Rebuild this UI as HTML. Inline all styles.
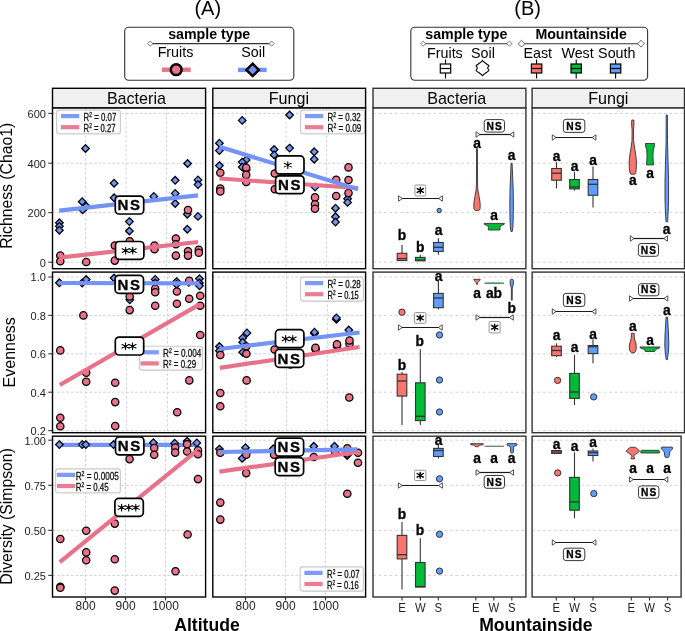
<!DOCTYPE html>
<html><head><meta charset="utf-8"><title>figure</title>
<style>
html,body{margin:0;padding:0;background:#fff;}
svg{display:block;will-change:transform;font-family:'Liberation Sans', sans-serif;}
</style></head>
<body>
<svg width="685" height="631" viewBox="0 0 685 631">
<rect x="0" y="0" width="685" height="631" fill="#fff"/>
<text x="207.8" y="14.6" font-size="20" text-anchor="middle" font-weight="normal" fill="#000" >(A)</text>
<text x="527.7" y="14.6" font-size="20" text-anchor="middle" font-weight="normal" fill="#000" >(B)</text>
<rect x="124.7" y="27.3" width="169.1" height="53" rx="4" fill="#fff" stroke="#333" stroke-width="1.1" />
<text x="209.2" y="38.8" font-size="14.2" text-anchor="middle" font-weight="bold" fill="#000" >sample type</text>
<line x1="150.2" y1="43.6" x2="271.6" y2="43.6" stroke="#333" stroke-width="1.1" />
<path d="M147.6,43.6 L150.2,41 L152.8,43.6 L150.2,46.2 Z" fill="#fff" stroke="#555" stroke-width="0.8"/>
<path d="M269,43.6 L271.6,41 L274.2,43.6 L271.6,46.2 Z" fill="#fff" stroke="#555" stroke-width="0.8"/>
<text x="175.5" y="57.3" font-size="14.3" text-anchor="middle" font-weight="normal" fill="#000" >Fruits</text>
<text x="253.2" y="57.3" font-size="14.3" text-anchor="middle" font-weight="normal" fill="#000" >Soil</text>
<line x1="161.8" y1="69.7" x2="190.7" y2="69.7" stroke="#E8728A" stroke-width="4.4" />
<circle cx="176.2" cy="69.7" r="5.4" fill="#E8728A" stroke="#000" stroke-width="2.5"/>
<line x1="238" y1="69.9" x2="266.7" y2="69.9" stroke="#7393F5" stroke-width="4.4" />
<path d="M252.6,63.7 L258.8,69.9 L252.6,76.1 L246.4,69.9 Z" fill="#7393F5" stroke="#000" stroke-width="2.5"/>
<rect x="410.8" y="27.3" width="236.8" height="53" rx="4" fill="#fff" stroke="#333" stroke-width="1.1" />
<text x="466.3" y="38.8" font-size="14.2" text-anchor="middle" font-weight="bold" fill="#000" >sample type</text>
<line x1="423.1" y1="43.7" x2="509.4" y2="43.7" stroke="#333" stroke-width="1.1" />
<path d="M420.5,43.7 L423.1,41.1 L425.7,43.7 L423.1,46.3 Z" fill="#fff" stroke="#555" stroke-width="0.8"/>
<path d="M506.8,43.7 L509.4,41.1 L512,43.7 L509.4,46.3 Z" fill="#fff" stroke="#555" stroke-width="0.8"/>
<text x="581.1" y="39.3" font-size="14.2" text-anchor="middle" font-weight="bold" fill="#000" >Mountainside</text>
<line x1="521.5" y1="43.7" x2="641" y2="43.7" stroke="#333" stroke-width="1.1" />
<path d="M518.1,43.7 L521.5,40.3 L524.9,43.7 L521.5,47.1 Z" fill="#fff" stroke="#555" stroke-width="0.9"/>
<path d="M637.6,43.7 L641,40.3 L644.4,43.7 L641,47.1 Z" fill="#fff" stroke="#555" stroke-width="0.9"/>
<text x="444.9" y="57.6" font-size="14.3" text-anchor="middle" font-weight="normal" fill="#000" >Fruits</text>
<text x="482.9" y="57.6" font-size="14.3" text-anchor="middle" font-weight="normal" fill="#000" >Soil</text>
<text x="537.8" y="57.6" font-size="14.3" text-anchor="middle" font-weight="normal" fill="#000" >East</text>
<text x="577.6" y="57.6" font-size="14.3" text-anchor="middle" font-weight="normal" fill="#000" >West</text>
<text x="616.8" y="57.6" font-size="14.3" text-anchor="middle" font-weight="normal" fill="#000" >South</text>
<line x1="445.5" y1="59.5" x2="445.5" y2="78.5" stroke="#000" stroke-width="1.1" />
<rect x="440.3" y="64" width="10.4" height="9" rx="0" fill="#fff" stroke="#000" stroke-width="1.2" />
<line x1="440.3" y1="68.5" x2="450.7" y2="68.5" stroke="#000" stroke-width="1.2" />
<line x1="536.6" y1="59.5" x2="536.6" y2="78.5" stroke="#000" stroke-width="1.1" />
<rect x="531.4" y="64" width="10.4" height="9" rx="0" fill="#F8766D" stroke="#000" stroke-width="1.2" />
<line x1="531.4" y1="68.5" x2="541.8" y2="68.5" stroke="#000" stroke-width="1.2" />
<line x1="576.2" y1="59.5" x2="576.2" y2="78.5" stroke="#000" stroke-width="1.1" />
<rect x="571" y="64" width="10.4" height="9" rx="0" fill="#00BA38" stroke="#000" stroke-width="1.2" />
<line x1="571" y1="68.5" x2="581.4" y2="68.5" stroke="#000" stroke-width="1.2" />
<line x1="615.6" y1="59.5" x2="615.6" y2="78.5" stroke="#000" stroke-width="1.1" />
<rect x="610.4" y="64" width="10.4" height="9" rx="0" fill="#619CFF" stroke="#000" stroke-width="1.2" />
<line x1="610.4" y1="68.5" x2="620.8" y2="68.5" stroke="#000" stroke-width="1.2" />
<path d="M482.5,60.5 C484,62.6 486.8,63.6 488.8,65.5 C489.3,66.6 487.5,67.2 487.7,68.1 C487.5,69 489.3,69.5 488.8,70.6 C486.8,72.5 484,73.5 482.5,75.6 C481,73.5 478.2,72.5 476.2,70.6 C475.7,69.5 477.5,69 477.3,68.1 C477.5,67.2 475.7,66.6 476.2,65.5 C478.2,63.6 481,62.6 482.5,60.5 Z" fill="#fff" stroke="#000" stroke-width="1.1"/>
<rect x="52.5" y="107.8" width="153.1" height="160.9" rx="0" fill="#fff" stroke="none" stroke-width="1" />
<line x1="52.5" y1="113.4" x2="205.6" y2="113.4" stroke="#D2D2D2" stroke-width="1" stroke-dasharray="2.6 2"/>
<line x1="52.5" y1="163.2" x2="205.6" y2="163.2" stroke="#D2D2D2" stroke-width="1" stroke-dasharray="2.6 2"/>
<line x1="52.5" y1="212.6" x2="205.6" y2="212.6" stroke="#D2D2D2" stroke-width="1" stroke-dasharray="2.6 2"/>
<line x1="52.5" y1="262.2" x2="205.6" y2="262.2" stroke="#D2D2D2" stroke-width="1" stroke-dasharray="2.6 2"/>
<line x1="85.6" y1="107.8" x2="85.6" y2="268.7" stroke="#D2D2D2" stroke-width="1" stroke-dasharray="2.6 2"/>
<line x1="126" y1="107.8" x2="126" y2="268.7" stroke="#D2D2D2" stroke-width="1" stroke-dasharray="2.6 2"/>
<line x1="166.4" y1="107.8" x2="166.4" y2="268.7" stroke="#D2D2D2" stroke-width="1" stroke-dasharray="2.6 2"/>
<rect x="212.8" y="107.8" width="152.8" height="160.9" rx="0" fill="#fff" stroke="none" stroke-width="1" />
<line x1="212.8" y1="113.4" x2="365.6" y2="113.4" stroke="#D2D2D2" stroke-width="1" stroke-dasharray="2.6 2"/>
<line x1="212.8" y1="163.2" x2="365.6" y2="163.2" stroke="#D2D2D2" stroke-width="1" stroke-dasharray="2.6 2"/>
<line x1="212.8" y1="212.6" x2="365.6" y2="212.6" stroke="#D2D2D2" stroke-width="1" stroke-dasharray="2.6 2"/>
<line x1="212.8" y1="262.2" x2="365.6" y2="262.2" stroke="#D2D2D2" stroke-width="1" stroke-dasharray="2.6 2"/>
<line x1="245.6" y1="107.8" x2="245.6" y2="268.7" stroke="#D2D2D2" stroke-width="1" stroke-dasharray="2.6 2"/>
<line x1="286" y1="107.8" x2="286" y2="268.7" stroke="#D2D2D2" stroke-width="1" stroke-dasharray="2.6 2"/>
<line x1="326.4" y1="107.8" x2="326.4" y2="268.7" stroke="#D2D2D2" stroke-width="1" stroke-dasharray="2.6 2"/>
<rect x="52.5" y="272.1" width="153.1" height="160.6" rx="0" fill="#fff" stroke="none" stroke-width="1" />
<line x1="52.5" y1="277" x2="205.6" y2="277" stroke="#D2D2D2" stroke-width="1" stroke-dasharray="2.6 2"/>
<line x1="52.5" y1="315.4" x2="205.6" y2="315.4" stroke="#D2D2D2" stroke-width="1" stroke-dasharray="2.6 2"/>
<line x1="52.5" y1="353.8" x2="205.6" y2="353.8" stroke="#D2D2D2" stroke-width="1" stroke-dasharray="2.6 2"/>
<line x1="52.5" y1="392.2" x2="205.6" y2="392.2" stroke="#D2D2D2" stroke-width="1" stroke-dasharray="2.6 2"/>
<line x1="52.5" y1="430.6" x2="205.6" y2="430.6" stroke="#D2D2D2" stroke-width="1" stroke-dasharray="2.6 2"/>
<line x1="85.9" y1="272.1" x2="85.9" y2="432.7" stroke="#D2D2D2" stroke-width="1" stroke-dasharray="2.6 2"/>
<line x1="126.65" y1="272.1" x2="126.65" y2="432.7" stroke="#D2D2D2" stroke-width="1" stroke-dasharray="2.6 2"/>
<line x1="167.4" y1="272.1" x2="167.4" y2="432.7" stroke="#D2D2D2" stroke-width="1" stroke-dasharray="2.6 2"/>
<rect x="212.8" y="272.1" width="152.8" height="160.6" rx="0" fill="#fff" stroke="none" stroke-width="1" />
<line x1="212.8" y1="277" x2="365.6" y2="277" stroke="#D2D2D2" stroke-width="1" stroke-dasharray="2.6 2"/>
<line x1="212.8" y1="315.4" x2="365.6" y2="315.4" stroke="#D2D2D2" stroke-width="1" stroke-dasharray="2.6 2"/>
<line x1="212.8" y1="353.8" x2="365.6" y2="353.8" stroke="#D2D2D2" stroke-width="1" stroke-dasharray="2.6 2"/>
<line x1="212.8" y1="392.2" x2="365.6" y2="392.2" stroke="#D2D2D2" stroke-width="1" stroke-dasharray="2.6 2"/>
<line x1="212.8" y1="430.6" x2="365.6" y2="430.6" stroke="#D2D2D2" stroke-width="1" stroke-dasharray="2.6 2"/>
<line x1="245.9" y1="272.1" x2="245.9" y2="432.7" stroke="#D2D2D2" stroke-width="1" stroke-dasharray="2.6 2"/>
<line x1="286.65" y1="272.1" x2="286.65" y2="432.7" stroke="#D2D2D2" stroke-width="1" stroke-dasharray="2.6 2"/>
<line x1="327.4" y1="272.1" x2="327.4" y2="432.7" stroke="#D2D2D2" stroke-width="1" stroke-dasharray="2.6 2"/>
<rect x="52.5" y="436.2" width="153.1" height="160.8" rx="0" fill="#fff" stroke="none" stroke-width="1" />
<line x1="52.5" y1="440.2" x2="205.6" y2="440.2" stroke="#D2D2D2" stroke-width="1" stroke-dasharray="2.6 2"/>
<line x1="52.5" y1="485.27" x2="205.6" y2="485.27" stroke="#D2D2D2" stroke-width="1" stroke-dasharray="2.6 2"/>
<line x1="52.5" y1="530.33" x2="205.6" y2="530.33" stroke="#D2D2D2" stroke-width="1" stroke-dasharray="2.6 2"/>
<line x1="52.5" y1="575.4" x2="205.6" y2="575.4" stroke="#D2D2D2" stroke-width="1" stroke-dasharray="2.6 2"/>
<line x1="85.55" y1="436.2" x2="85.55" y2="597" stroke="#D2D2D2" stroke-width="1" stroke-dasharray="2.6 2"/>
<line x1="125.55" y1="436.2" x2="125.55" y2="597" stroke="#D2D2D2" stroke-width="1" stroke-dasharray="2.6 2"/>
<line x1="165.55" y1="436.2" x2="165.55" y2="597" stroke="#D2D2D2" stroke-width="1" stroke-dasharray="2.6 2"/>
<rect x="212.8" y="436.2" width="152.8" height="160.8" rx="0" fill="#fff" stroke="none" stroke-width="1" />
<line x1="212.8" y1="440.2" x2="365.6" y2="440.2" stroke="#D2D2D2" stroke-width="1" stroke-dasharray="2.6 2"/>
<line x1="212.8" y1="485.27" x2="365.6" y2="485.27" stroke="#D2D2D2" stroke-width="1" stroke-dasharray="2.6 2"/>
<line x1="212.8" y1="530.33" x2="365.6" y2="530.33" stroke="#D2D2D2" stroke-width="1" stroke-dasharray="2.6 2"/>
<line x1="212.8" y1="575.4" x2="365.6" y2="575.4" stroke="#D2D2D2" stroke-width="1" stroke-dasharray="2.6 2"/>
<line x1="245.55" y1="436.2" x2="245.55" y2="597" stroke="#D2D2D2" stroke-width="1" stroke-dasharray="2.6 2"/>
<line x1="285.55" y1="436.2" x2="285.55" y2="597" stroke="#D2D2D2" stroke-width="1" stroke-dasharray="2.6 2"/>
<line x1="325.55" y1="436.2" x2="325.55" y2="597" stroke="#D2D2D2" stroke-width="1" stroke-dasharray="2.6 2"/>
<rect x="373" y="107.8" width="152.9" height="160.9" rx="0" fill="#fff" stroke="none" stroke-width="1" />
<line x1="373" y1="113.4" x2="525.9" y2="113.4" stroke="#D2D2D2" stroke-width="1" stroke-dasharray="2.7 2.8"/>
<line x1="373" y1="163.2" x2="525.9" y2="163.2" stroke="#D2D2D2" stroke-width="1" stroke-dasharray="2.7 2.8"/>
<line x1="373" y1="212.6" x2="525.9" y2="212.6" stroke="#D2D2D2" stroke-width="1" stroke-dasharray="2.7 2.8"/>
<line x1="373" y1="262.2" x2="525.9" y2="262.2" stroke="#D2D2D2" stroke-width="1" stroke-dasharray="2.7 2.8"/>
<rect x="532.1" y="107.8" width="152.4" height="160.9" rx="0" fill="#fff" stroke="none" stroke-width="1" />
<line x1="532.1" y1="113.4" x2="684.5" y2="113.4" stroke="#D2D2D2" stroke-width="1" stroke-dasharray="2.7 2.8"/>
<line x1="532.1" y1="163.2" x2="684.5" y2="163.2" stroke="#D2D2D2" stroke-width="1" stroke-dasharray="2.7 2.8"/>
<line x1="532.1" y1="212.6" x2="684.5" y2="212.6" stroke="#D2D2D2" stroke-width="1" stroke-dasharray="2.7 2.8"/>
<line x1="532.1" y1="262.2" x2="684.5" y2="262.2" stroke="#D2D2D2" stroke-width="1" stroke-dasharray="2.7 2.8"/>
<rect x="373" y="272.1" width="152.9" height="160.6" rx="0" fill="#fff" stroke="none" stroke-width="1" />
<line x1="373" y1="277" x2="525.9" y2="277" stroke="#D2D2D2" stroke-width="1" stroke-dasharray="2.7 2.8"/>
<line x1="373" y1="315.4" x2="525.9" y2="315.4" stroke="#D2D2D2" stroke-width="1" stroke-dasharray="2.7 2.8"/>
<line x1="373" y1="353.8" x2="525.9" y2="353.8" stroke="#D2D2D2" stroke-width="1" stroke-dasharray="2.7 2.8"/>
<line x1="373" y1="392.2" x2="525.9" y2="392.2" stroke="#D2D2D2" stroke-width="1" stroke-dasharray="2.7 2.8"/>
<line x1="373" y1="430.6" x2="525.9" y2="430.6" stroke="#D2D2D2" stroke-width="1" stroke-dasharray="2.7 2.8"/>
<rect x="532.1" y="272.1" width="152.4" height="160.6" rx="0" fill="#fff" stroke="none" stroke-width="1" />
<line x1="532.1" y1="277" x2="684.5" y2="277" stroke="#D2D2D2" stroke-width="1" stroke-dasharray="2.7 2.8"/>
<line x1="532.1" y1="315.4" x2="684.5" y2="315.4" stroke="#D2D2D2" stroke-width="1" stroke-dasharray="2.7 2.8"/>
<line x1="532.1" y1="353.8" x2="684.5" y2="353.8" stroke="#D2D2D2" stroke-width="1" stroke-dasharray="2.7 2.8"/>
<line x1="532.1" y1="392.2" x2="684.5" y2="392.2" stroke="#D2D2D2" stroke-width="1" stroke-dasharray="2.7 2.8"/>
<line x1="532.1" y1="430.6" x2="684.5" y2="430.6" stroke="#D2D2D2" stroke-width="1" stroke-dasharray="2.7 2.8"/>
<rect x="373" y="436.2" width="152.9" height="160.8" rx="0" fill="#fff" stroke="none" stroke-width="1" />
<line x1="373" y1="440.2" x2="525.9" y2="440.2" stroke="#D2D2D2" stroke-width="1" stroke-dasharray="2.7 2.8"/>
<line x1="373" y1="485.27" x2="525.9" y2="485.27" stroke="#D2D2D2" stroke-width="1" stroke-dasharray="2.7 2.8"/>
<line x1="373" y1="530.33" x2="525.9" y2="530.33" stroke="#D2D2D2" stroke-width="1" stroke-dasharray="2.7 2.8"/>
<line x1="373" y1="575.4" x2="525.9" y2="575.4" stroke="#D2D2D2" stroke-width="1" stroke-dasharray="2.7 2.8"/>
<rect x="532.1" y="436.2" width="149" height="160.8" rx="0" fill="#fff" stroke="none" stroke-width="1" />
<line x1="532.1" y1="440.2" x2="681.1" y2="440.2" stroke="#D2D2D2" stroke-width="1" stroke-dasharray="2.7 2.8"/>
<line x1="532.1" y1="485.27" x2="681.1" y2="485.27" stroke="#D2D2D2" stroke-width="1" stroke-dasharray="2.7 2.8"/>
<line x1="532.1" y1="530.33" x2="681.1" y2="530.33" stroke="#D2D2D2" stroke-width="1" stroke-dasharray="2.7 2.8"/>
<line x1="532.1" y1="575.4" x2="681.1" y2="575.4" stroke="#D2D2D2" stroke-width="1" stroke-dasharray="2.7 2.8"/>
<path d="M59.4,219 L63.2,222.8 L59.4,226.6 L55.6,222.8 Z" fill="#7393F5" stroke="#000" stroke-width="1.25" stroke-linejoin="miter"/>
<path d="M59.4,222.5 L63.2,226.3 L59.4,230.1 L55.6,226.3 Z" fill="#7393F5" stroke="#000" stroke-width="1.25" stroke-linejoin="miter"/>
<path d="M59.4,226.4 L63.2,230.2 L59.4,234 L55.6,230.2 Z" fill="#7393F5" stroke="#000" stroke-width="1.25" stroke-linejoin="miter"/>
<path d="M82.2,197.9 L86,201.7 L82.2,205.5 L78.4,201.7 Z" fill="#7393F5" stroke="#000" stroke-width="1.25" stroke-linejoin="miter"/>
<path d="M86.2,202.5 L90,206.3 L86.2,210.1 L82.4,206.3 Z" fill="#7393F5" stroke="#000" stroke-width="1.25" stroke-linejoin="miter"/>
<path d="M82.7,206.1 L86.5,209.9 L82.7,213.7 L78.9,209.9 Z" fill="#7393F5" stroke="#000" stroke-width="1.25" stroke-linejoin="miter"/>
<path d="M85.5,144.7 L89.3,148.5 L85.5,152.3 L81.7,148.5 Z" fill="#7393F5" stroke="#000" stroke-width="1.25" stroke-linejoin="miter"/>
<path d="M114.1,179.4 L117.9,183.2 L114.1,187 L110.3,183.2 Z" fill="#7393F5" stroke="#000" stroke-width="1.25" stroke-linejoin="miter"/>
<path d="M114.1,194 L117.9,197.8 L114.1,201.6 L110.3,197.8 Z" fill="#7393F5" stroke="#000" stroke-width="1.25" stroke-linejoin="miter"/>
<path d="M129.4,217.8 L133.2,221.6 L129.4,225.4 L125.6,221.6 Z" fill="#7393F5" stroke="#000" stroke-width="1.25" stroke-linejoin="miter"/>
<path d="M129.4,227.2 L133.2,231 L129.4,234.8 L125.6,231 Z" fill="#7393F5" stroke="#000" stroke-width="1.25" stroke-linejoin="miter"/>
<path d="M153.8,192.6 L157.6,196.4 L153.8,200.2 L150,196.4 Z" fill="#7393F5" stroke="#000" stroke-width="1.25" stroke-linejoin="miter"/>
<path d="M175.2,176.5 L179,180.3 L175.2,184.1 L171.4,180.3 Z" fill="#7393F5" stroke="#000" stroke-width="1.25" stroke-linejoin="miter"/>
<path d="M175.2,189.6 L179,193.4 L175.2,197.2 L171.4,193.4 Z" fill="#7393F5" stroke="#000" stroke-width="1.25" stroke-linejoin="miter"/>
<path d="M175.2,199.7 L179,203.5 L175.2,207.3 L171.4,203.5 Z" fill="#7393F5" stroke="#000" stroke-width="1.25" stroke-linejoin="miter"/>
<path d="M187.6,159.7 L191.4,163.5 L187.6,167.3 L183.8,163.5 Z" fill="#7393F5" stroke="#000" stroke-width="1.25" stroke-linejoin="miter"/>
<path d="M198,176.1 L201.8,179.9 L198,183.7 L194.2,179.9 Z" fill="#7393F5" stroke="#000" stroke-width="1.25" stroke-linejoin="miter"/>
<path d="M198,180.8 L201.8,184.6 L198,188.4 L194.2,184.6 Z" fill="#7393F5" stroke="#000" stroke-width="1.25" stroke-linejoin="miter"/>
<path d="M187.3,210.4 L191.1,214.2 L187.3,218 L183.5,214.2 Z" fill="#7393F5" stroke="#000" stroke-width="1.25" stroke-linejoin="miter"/>
<path d="M198,212.6 L201.8,216.4 L198,220.2 L194.2,216.4 Z" fill="#7393F5" stroke="#000" stroke-width="1.25" stroke-linejoin="miter"/>
<path d="M187.3,225.4 L191.1,229.2 L187.3,233 L183.5,229.2 Z" fill="#7393F5" stroke="#000" stroke-width="1.25" stroke-linejoin="miter"/>
<circle cx="60.3" cy="255.6" r="3.68" fill="#E8728A" stroke="#000" stroke-width="1.25"/>
<circle cx="60.3" cy="261.3" r="3.68" fill="#E8728A" stroke="#000" stroke-width="1.25"/>
<circle cx="86.2" cy="262" r="3.68" fill="#E8728A" stroke="#000" stroke-width="1.25"/>
<circle cx="114.8" cy="245.6" r="3.68" fill="#E8728A" stroke="#000" stroke-width="1.25"/>
<circle cx="114.8" cy="260.6" r="3.68" fill="#E8728A" stroke="#000" stroke-width="1.25"/>
<circle cx="129.7" cy="241.3" r="3.68" fill="#E8728A" stroke="#000" stroke-width="1.25"/>
<circle cx="154.5" cy="245.6" r="3.68" fill="#E8728A" stroke="#000" stroke-width="1.25"/>
<circle cx="154.5" cy="249.2" r="3.68" fill="#E8728A" stroke="#000" stroke-width="1.25"/>
<circle cx="175.9" cy="238.5" r="3.68" fill="#E8728A" stroke="#000" stroke-width="1.25"/>
<circle cx="175.9" cy="244.2" r="3.68" fill="#E8728A" stroke="#000" stroke-width="1.25"/>
<circle cx="175.9" cy="255.6" r="3.68" fill="#E8728A" stroke="#000" stroke-width="1.25"/>
<circle cx="188" cy="210" r="3.68" fill="#E8728A" stroke="#000" stroke-width="1.25"/>
<circle cx="188" cy="251.3" r="3.68" fill="#E8728A" stroke="#000" stroke-width="1.25"/>
<circle cx="188" cy="255.6" r="3.68" fill="#E8728A" stroke="#000" stroke-width="1.25"/>
<circle cx="198.8" cy="249.9" r="3.68" fill="#E8728A" stroke="#000" stroke-width="1.25"/>
<circle cx="198.8" cy="252.8" r="3.68" fill="#E8728A" stroke="#000" stroke-width="1.25"/>
<line x1="59.1" y1="257.7" x2="198" y2="242" stroke="#E8728A" stroke-width="4.2" />
<line x1="59.1" y1="210.7" x2="198" y2="195.4" stroke="#7393F5" stroke-width="4.2" />
<path d="M219.4,139.4 L223.2,143.2 L219.4,147 L215.6,143.2 Z" fill="#7393F5" stroke="#000" stroke-width="1.25" stroke-linejoin="miter"/>
<path d="M219.4,146.8 L223.2,150.6 L219.4,154.4 L215.6,150.6 Z" fill="#7393F5" stroke="#000" stroke-width="1.25" stroke-linejoin="miter"/>
<path d="M219.4,161.8 L223.2,165.6 L219.4,169.4 L215.6,165.6 Z" fill="#7393F5" stroke="#000" stroke-width="1.25" stroke-linejoin="miter"/>
<path d="M242.2,116.6 L246,120.4 L242.2,124.2 L238.4,120.4 Z" fill="#7393F5" stroke="#000" stroke-width="1.25" stroke-linejoin="miter"/>
<path d="M246.2,156.1 L250,159.9 L246.2,163.7 L242.4,159.9 Z" fill="#7393F5" stroke="#000" stroke-width="1.25" stroke-linejoin="miter"/>
<path d="M242.2,158.3 L246,162.1 L242.2,165.9 L238.4,162.1 Z" fill="#7393F5" stroke="#000" stroke-width="1.25" stroke-linejoin="miter"/>
<path d="M242.2,163.3 L246,167.1 L242.2,170.9 L238.4,167.1 Z" fill="#7393F5" stroke="#000" stroke-width="1.25" stroke-linejoin="miter"/>
<path d="M246.2,166.2 L250,170 L246.2,173.8 L242.4,170 Z" fill="#7393F5" stroke="#000" stroke-width="1.25" stroke-linejoin="miter"/>
<path d="M274.1,145.7 L277.9,149.5 L274.1,153.3 L270.3,149.5 Z" fill="#7393F5" stroke="#000" stroke-width="1.25" stroke-linejoin="miter"/>
<path d="M274.1,151.1 L277.9,154.9 L274.1,158.7 L270.3,154.9 Z" fill="#7393F5" stroke="#000" stroke-width="1.25" stroke-linejoin="miter"/>
<path d="M289.6,111.2 L293.4,115 L289.6,118.8 L285.8,115 Z" fill="#7393F5" stroke="#000" stroke-width="1.25" stroke-linejoin="miter"/>
<path d="M289.6,144.3 L293.4,148.1 L289.6,151.9 L285.8,148.1 Z" fill="#7393F5" stroke="#000" stroke-width="1.25" stroke-linejoin="miter"/>
<path d="M314.2,148 L318,151.8 L314.2,155.6 L310.4,151.8 Z" fill="#7393F5" stroke="#000" stroke-width="1.25" stroke-linejoin="miter"/>
<path d="M314.2,155.4 L318,159.2 L314.2,163 L310.4,159.2 Z" fill="#7393F5" stroke="#000" stroke-width="1.25" stroke-linejoin="miter"/>
<path d="M315,183.3 L318.8,187.1 L315,190.9 L311.2,187.1 Z" fill="#7393F5" stroke="#000" stroke-width="1.25" stroke-linejoin="miter"/>
<path d="M347.6,195 L351.4,198.8 L347.6,202.6 L343.8,198.8 Z" fill="#7393F5" stroke="#000" stroke-width="1.25" stroke-linejoin="miter"/>
<path d="M347.6,198.6 L351.4,202.4 L347.6,206.2 L343.8,202.4 Z" fill="#7393F5" stroke="#000" stroke-width="1.25" stroke-linejoin="miter"/>
<path d="M335.5,204.4 L339.3,208.2 L335.5,212 L331.7,208.2 Z" fill="#7393F5" stroke="#000" stroke-width="1.25" stroke-linejoin="miter"/>
<path d="M335.5,213 L339.3,216.8 L335.5,220.6 L331.7,216.8 Z" fill="#7393F5" stroke="#000" stroke-width="1.25" stroke-linejoin="miter"/>
<path d="M335.5,218.3 L339.3,222.1 L335.5,225.9 L331.7,222.1 Z" fill="#7393F5" stroke="#000" stroke-width="1.25" stroke-linejoin="miter"/>
<circle cx="220.3" cy="172.8" r="3.68" fill="#E8728A" stroke="#000" stroke-width="1.25"/>
<circle cx="220.3" cy="188.6" r="3.68" fill="#E8728A" stroke="#000" stroke-width="1.25"/>
<circle cx="220.3" cy="191.4" r="3.68" fill="#E8728A" stroke="#000" stroke-width="1.25"/>
<circle cx="246.2" cy="167.8" r="3.68" fill="#E8728A" stroke="#000" stroke-width="1.25"/>
<circle cx="246.2" cy="174.9" r="3.68" fill="#E8728A" stroke="#000" stroke-width="1.25"/>
<circle cx="246.2" cy="182" r="3.68" fill="#E8728A" stroke="#000" stroke-width="1.25"/>
<circle cx="274.8" cy="173.5" r="3.68" fill="#E8728A" stroke="#000" stroke-width="1.25"/>
<circle cx="274.8" cy="189.3" r="3.68" fill="#E8728A" stroke="#000" stroke-width="1.25"/>
<circle cx="348.5" cy="167.4" r="3.68" fill="#E8728A" stroke="#000" stroke-width="1.25"/>
<circle cx="348.5" cy="180" r="3.68" fill="#E8728A" stroke="#000" stroke-width="1.25"/>
<circle cx="348.5" cy="193.1" r="3.68" fill="#E8728A" stroke="#000" stroke-width="1.25"/>
<circle cx="336.2" cy="179.7" r="3.68" fill="#E8728A" stroke="#000" stroke-width="1.25"/>
<circle cx="336.2" cy="196" r="3.68" fill="#E8728A" stroke="#000" stroke-width="1.25"/>
<circle cx="315" cy="197.4" r="3.68" fill="#E8728A" stroke="#000" stroke-width="1.25"/>
<circle cx="315" cy="204.2" r="3.68" fill="#E8728A" stroke="#000" stroke-width="1.25"/>
<circle cx="315" cy="208.8" r="3.68" fill="#E8728A" stroke="#000" stroke-width="1.25"/>
<line x1="219.4" y1="178.5" x2="358" y2="188" stroke="#E8728A" stroke-width="4.2" />
<line x1="219.4" y1="146.8" x2="358" y2="189.2" stroke="#7393F5" stroke-width="4.2" />
<path d="M59.4,279 L63.2,282.8 L59.4,286.6 L55.6,282.8 Z" fill="#7393F5" stroke="#000" stroke-width="1.25" stroke-linejoin="miter"/>
<path d="M82.2,279.2 L86,283 L82.2,286.8 L78.4,283 Z" fill="#7393F5" stroke="#000" stroke-width="1.25" stroke-linejoin="miter"/>
<path d="M86.2,275.7 L90,279.5 L86.2,283.3 L82.4,279.5 Z" fill="#7393F5" stroke="#000" stroke-width="1.25" stroke-linejoin="miter"/>
<path d="M114.1,274.2 L117.9,278 L114.1,281.8 L110.3,278 Z" fill="#7393F5" stroke="#000" stroke-width="1.25" stroke-linejoin="miter"/>
<path d="M129.5,277.2 L133.3,281 L129.5,284.8 L125.7,281 Z" fill="#7393F5" stroke="#000" stroke-width="1.25" stroke-linejoin="miter"/>
<path d="M129.8,296 L133.6,299.8 L129.8,303.6 L126,299.8 Z" fill="#7393F5" stroke="#000" stroke-width="1.25" stroke-linejoin="miter"/>
<path d="M155.2,275.6 L159,279.4 L155.2,283.2 L151.4,279.4 Z" fill="#7393F5" stroke="#000" stroke-width="1.25" stroke-linejoin="miter"/>
<path d="M155.2,279.2 L159,283 L155.2,286.8 L151.4,283 Z" fill="#7393F5" stroke="#000" stroke-width="1.25" stroke-linejoin="miter"/>
<path d="M176.6,277.8 L180.4,281.6 L176.6,285.4 L172.8,281.6 Z" fill="#7393F5" stroke="#000" stroke-width="1.25" stroke-linejoin="miter"/>
<path d="M176.6,280.6 L180.4,284.4 L176.6,288.2 L172.8,284.4 Z" fill="#7393F5" stroke="#000" stroke-width="1.25" stroke-linejoin="miter"/>
<path d="M188.8,278.5 L192.6,282.3 L188.8,286.1 L185,282.3 Z" fill="#7393F5" stroke="#000" stroke-width="1.25" stroke-linejoin="miter"/>
<path d="M199.5,274.9 L203.3,278.7 L199.5,282.5 L195.7,278.7 Z" fill="#7393F5" stroke="#000" stroke-width="1.25" stroke-linejoin="miter"/>
<path d="M199.5,279.2 L203.3,283 L199.5,286.8 L195.7,283 Z" fill="#7393F5" stroke="#000" stroke-width="1.25" stroke-linejoin="miter"/>
<path d="M199.5,282 L203.3,285.8 L199.5,289.6 L195.7,285.8 Z" fill="#7393F5" stroke="#000" stroke-width="1.25" stroke-linejoin="miter"/>
<circle cx="83.4" cy="315.4" r="3.68" fill="#E8728A" stroke="#000" stroke-width="1.25"/>
<circle cx="60.3" cy="350.4" r="3.68" fill="#E8728A" stroke="#000" stroke-width="1.25"/>
<circle cx="129.7" cy="296.5" r="3.68" fill="#E8728A" stroke="#000" stroke-width="1.25"/>
<circle cx="129.7" cy="310.1" r="3.68" fill="#E8728A" stroke="#000" stroke-width="1.25"/>
<circle cx="155.2" cy="288.7" r="3.68" fill="#E8728A" stroke="#000" stroke-width="1.25"/>
<circle cx="155.2" cy="292.3" r="3.68" fill="#E8728A" stroke="#000" stroke-width="1.25"/>
<circle cx="155.2" cy="305.8" r="3.68" fill="#E8728A" stroke="#000" stroke-width="1.25"/>
<circle cx="176.9" cy="291.5" r="3.68" fill="#E8728A" stroke="#000" stroke-width="1.25"/>
<circle cx="176.9" cy="303.7" r="3.68" fill="#E8728A" stroke="#000" stroke-width="1.25"/>
<circle cx="189.2" cy="280.8" r="3.68" fill="#E8728A" stroke="#000" stroke-width="1.25"/>
<circle cx="189.2" cy="298.7" r="3.68" fill="#E8728A" stroke="#000" stroke-width="1.25"/>
<circle cx="200.2" cy="295.8" r="3.68" fill="#E8728A" stroke="#000" stroke-width="1.25"/>
<circle cx="200.2" cy="305.8" r="3.68" fill="#E8728A" stroke="#000" stroke-width="1.25"/>
<circle cx="200.2" cy="335" r="3.68" fill="#E8728A" stroke="#000" stroke-width="1.25"/>
<circle cx="60.3" cy="417.8" r="3.68" fill="#E8728A" stroke="#000" stroke-width="1.25"/>
<circle cx="60.3" cy="426.3" r="3.68" fill="#E8728A" stroke="#000" stroke-width="1.25"/>
<circle cx="86.2" cy="372.8" r="3.68" fill="#E8728A" stroke="#000" stroke-width="1.25"/>
<circle cx="86.2" cy="381.8" r="3.68" fill="#E8728A" stroke="#000" stroke-width="1.25"/>
<circle cx="115.2" cy="382.8" r="3.68" fill="#E8728A" stroke="#000" stroke-width="1.25"/>
<circle cx="115.2" cy="402.1" r="3.68" fill="#E8728A" stroke="#000" stroke-width="1.25"/>
<circle cx="115.2" cy="426" r="3.68" fill="#E8728A" stroke="#000" stroke-width="1.25"/>
<circle cx="189.3" cy="380.4" r="3.68" fill="#E8728A" stroke="#000" stroke-width="1.25"/>
<circle cx="177.2" cy="412.3" r="3.68" fill="#E8728A" stroke="#000" stroke-width="1.25"/>
<line x1="59.8" y1="385" x2="199.5" y2="304.4" stroke="#E8728A" stroke-width="4.2" />
<line x1="59.1" y1="283" x2="199.5" y2="283.4" stroke="#7393F5" stroke-width="4.2" />
<path d="M219.4,342.7 L223.2,346.5 L219.4,350.3 L215.6,346.5 Z" fill="#7393F5" stroke="#000" stroke-width="1.25" stroke-linejoin="miter"/>
<path d="M219.4,346.9 L223.2,350.7 L219.4,354.5 L215.6,350.7 Z" fill="#7393F5" stroke="#000" stroke-width="1.25" stroke-linejoin="miter"/>
<path d="M247,329.1 L250.8,332.9 L247,336.7 L243.2,332.9 Z" fill="#7393F5" stroke="#000" stroke-width="1.25" stroke-linejoin="miter"/>
<path d="M242.7,334.1 L246.5,337.9 L242.7,341.7 L238.9,337.9 Z" fill="#7393F5" stroke="#000" stroke-width="1.25" stroke-linejoin="miter"/>
<path d="M242.7,338.4 L246.5,342.2 L242.7,346 L238.9,342.2 Z" fill="#7393F5" stroke="#000" stroke-width="1.25" stroke-linejoin="miter"/>
<path d="M242.7,348.4 L246.5,352.2 L242.7,356 L238.9,352.2 Z" fill="#7393F5" stroke="#000" stroke-width="1.25" stroke-linejoin="miter"/>
<path d="M336.4,315.6 L340.2,319.4 L336.4,323.2 L332.6,319.4 Z" fill="#7393F5" stroke="#000" stroke-width="1.25" stroke-linejoin="miter"/>
<path d="M336.4,314.1 L340.2,317.9 L336.4,321.7 L332.6,317.9 Z" fill="#7393F5" stroke="#000" stroke-width="1.25" stroke-linejoin="miter"/>
<path d="M314.5,329.8 L318.3,333.6 L314.5,337.4 L310.7,333.6 Z" fill="#7393F5" stroke="#000" stroke-width="1.25" stroke-linejoin="miter"/>
<path d="M314.5,328.4 L318.3,332.2 L314.5,336 L310.7,332.2 Z" fill="#7393F5" stroke="#000" stroke-width="1.25" stroke-linejoin="miter"/>
<path d="M348.8,326.2 L352.6,330 L348.8,333.8 L345,330 Z" fill="#7393F5" stroke="#000" stroke-width="1.25" stroke-linejoin="miter"/>
<circle cx="220.3" cy="355" r="3.68" fill="#E8728A" stroke="#000" stroke-width="1.25"/>
<circle cx="246.2" cy="346.5" r="3.68" fill="#E8728A" stroke="#000" stroke-width="1.25"/>
<circle cx="246.4" cy="353.8" r="3.68" fill="#E8728A" stroke="#000" stroke-width="1.25"/>
<circle cx="274.6" cy="349.5" r="3.68" fill="#E8728A" stroke="#000" stroke-width="1.25"/>
<circle cx="290.4" cy="364.4" r="3.68" fill="#E8728A" stroke="#000" stroke-width="1.25"/>
<circle cx="315.5" cy="349" r="3.68" fill="#E8728A" stroke="#000" stroke-width="1.25"/>
<circle cx="315.5" cy="347.9" r="3.68" fill="#E8728A" stroke="#000" stroke-width="1.25"/>
<circle cx="337" cy="345.6" r="3.68" fill="#E8728A" stroke="#000" stroke-width="1.25"/>
<circle cx="337" cy="344.4" r="3.68" fill="#E8728A" stroke="#000" stroke-width="1.25"/>
<circle cx="349.5" cy="343.8" r="3.68" fill="#E8728A" stroke="#000" stroke-width="1.25"/>
<circle cx="349.5" cy="340.5" r="3.68" fill="#E8728A" stroke="#000" stroke-width="1.25"/>
<circle cx="220.3" cy="393" r="3.68" fill="#E8728A" stroke="#000" stroke-width="1.25"/>
<circle cx="220.3" cy="406.3" r="3.68" fill="#E8728A" stroke="#000" stroke-width="1.25"/>
<circle cx="246.6" cy="380.4" r="3.68" fill="#E8728A" stroke="#000" stroke-width="1.25"/>
<circle cx="349.3" cy="397.5" r="3.68" fill="#E8728A" stroke="#000" stroke-width="1.25"/>
<line x1="219.8" y1="367.9" x2="359.5" y2="347" stroke="#E8728A" stroke-width="4.2" />
<line x1="219.4" y1="349" x2="359.5" y2="332.5" stroke="#7393F5" stroke-width="4.2" />
<line x1="59.1" y1="444.8" x2="198" y2="444.8" stroke="#7393F5" stroke-width="4.2" />
<path d="M59.4,440.8 L63.2,444.6 L59.4,448.4 L55.6,444.6 Z" fill="#7393F5" stroke="#000" stroke-width="1.25" stroke-linejoin="miter"/>
<path d="M82.2,440.8 L86,444.6 L82.2,448.4 L78.4,444.6 Z" fill="#7393F5" stroke="#000" stroke-width="1.25" stroke-linejoin="miter"/>
<path d="M85.8,440.8 L89.6,444.6 L85.8,448.4 L82,444.6 Z" fill="#7393F5" stroke="#000" stroke-width="1.25" stroke-linejoin="miter"/>
<path d="M113.5,440.8 L117.3,444.6 L113.5,448.4 L109.7,444.6 Z" fill="#7393F5" stroke="#000" stroke-width="1.25" stroke-linejoin="miter"/>
<path d="M153.4,438.9 L157.2,442.7 L153.4,446.5 L149.6,442.7 Z" fill="#7393F5" stroke="#000" stroke-width="1.25" stroke-linejoin="miter"/>
<path d="M174.7,439.4 L178.5,443.2 L174.7,447 L170.9,443.2 Z" fill="#7393F5" stroke="#000" stroke-width="1.25" stroke-linejoin="miter"/>
<path d="M187.1,437.5 L190.9,441.3 L187.1,445.1 L183.3,441.3 Z" fill="#7393F5" stroke="#000" stroke-width="1.25" stroke-linejoin="miter"/>
<path d="M196.8,439.1 L200.6,442.9 L196.8,446.7 L193,442.9 Z" fill="#7393F5" stroke="#000" stroke-width="1.25" stroke-linejoin="miter"/>
<circle cx="129.6" cy="459.1" r="3.68" fill="#E8728A" stroke="#000" stroke-width="1.25"/>
<circle cx="154.2" cy="448" r="3.68" fill="#E8728A" stroke="#000" stroke-width="1.25"/>
<circle cx="154.2" cy="454.8" r="3.68" fill="#E8728A" stroke="#000" stroke-width="1.25"/>
<circle cx="175.2" cy="447.6" r="3.68" fill="#E8728A" stroke="#000" stroke-width="1.25"/>
<circle cx="175.2" cy="452.6" r="3.68" fill="#E8728A" stroke="#000" stroke-width="1.25"/>
<circle cx="187.1" cy="444.3" r="3.68" fill="#E8728A" stroke="#000" stroke-width="1.25"/>
<circle cx="187.1" cy="451.5" r="3.68" fill="#E8728A" stroke="#000" stroke-width="1.25"/>
<circle cx="198" cy="450.4" r="3.68" fill="#E8728A" stroke="#000" stroke-width="1.25"/>
<circle cx="198" cy="454.3" r="3.68" fill="#E8728A" stroke="#000" stroke-width="1.25"/>
<circle cx="198" cy="479.1" r="3.68" fill="#E8728A" stroke="#000" stroke-width="1.25"/>
<circle cx="60.3" cy="539" r="3.68" fill="#E8728A" stroke="#000" stroke-width="1.25"/>
<circle cx="60.3" cy="586.8" r="3.68" fill="#E8728A" stroke="#000" stroke-width="1.25"/>
<circle cx="60.3" cy="587.7" r="3.68" fill="#E8728A" stroke="#000" stroke-width="1.25"/>
<circle cx="86.2" cy="530.7" r="3.68" fill="#E8728A" stroke="#000" stroke-width="1.25"/>
<circle cx="86.2" cy="552.4" r="3.68" fill="#E8728A" stroke="#000" stroke-width="1.25"/>
<circle cx="86.2" cy="560.2" r="3.68" fill="#E8728A" stroke="#000" stroke-width="1.25"/>
<circle cx="114.8" cy="523.6" r="3.68" fill="#E8728A" stroke="#000" stroke-width="1.25"/>
<circle cx="114.8" cy="559.2" r="3.68" fill="#E8728A" stroke="#000" stroke-width="1.25"/>
<circle cx="114.8" cy="590.6" r="3.68" fill="#E8728A" stroke="#000" stroke-width="1.25"/>
<circle cx="187.6" cy="534.5" r="3.68" fill="#E8728A" stroke="#000" stroke-width="1.25"/>
<circle cx="175.5" cy="571.3" r="3.68" fill="#E8728A" stroke="#000" stroke-width="1.25"/>
<line x1="59.8" y1="562.1" x2="197.3" y2="450.3" stroke="#E8728A" stroke-width="4.2" />
<path d="M219.4,445.3 L223.2,449.1 L219.4,452.9 L215.6,449.1 Z" fill="#7393F5" stroke="#000" stroke-width="1.25" stroke-linejoin="miter"/>
<path d="M245.5,443.9 L249.3,447.7 L245.5,451.5 L241.7,447.7 Z" fill="#7393F5" stroke="#000" stroke-width="1.25" stroke-linejoin="miter"/>
<path d="M242.2,454.6 L246,458.4 L242.2,462.2 L238.4,458.4 Z" fill="#7393F5" stroke="#000" stroke-width="1.25" stroke-linejoin="miter"/>
<path d="M273.3,445 L277.1,448.8 L273.3,452.6 L269.5,448.8 Z" fill="#7393F5" stroke="#000" stroke-width="1.25" stroke-linejoin="miter"/>
<path d="M313.8,442.5 L317.6,446.3 L313.8,450.1 L310,446.3 Z" fill="#7393F5" stroke="#000" stroke-width="1.25" stroke-linejoin="miter"/>
<path d="M334.5,442.5 L338.3,446.3 L334.5,450.1 L330.7,446.3 Z" fill="#7393F5" stroke="#000" stroke-width="1.25" stroke-linejoin="miter"/>
<path d="M347.1,451.7 L350.9,455.5 L347.1,459.3 L343.3,455.5 Z" fill="#7393F5" stroke="#000" stroke-width="1.25" stroke-linejoin="miter"/>
<path d="M347.1,446 L350.9,449.8 L347.1,453.6 L343.3,449.8 Z" fill="#7393F5" stroke="#000" stroke-width="1.25" stroke-linejoin="miter"/>
<circle cx="220.3" cy="452.7" r="3.68" fill="#E8728A" stroke="#000" stroke-width="1.25"/>
<circle cx="246.2" cy="452.7" r="3.68" fill="#E8728A" stroke="#000" stroke-width="1.25"/>
<circle cx="246.2" cy="454.8" r="3.68" fill="#E8728A" stroke="#000" stroke-width="1.25"/>
<circle cx="246.2" cy="473.1" r="3.68" fill="#E8728A" stroke="#000" stroke-width="1.25"/>
<circle cx="274.1" cy="454.8" r="3.68" fill="#E8728A" stroke="#000" stroke-width="1.25"/>
<circle cx="220.3" cy="502.6" r="3.68" fill="#E8728A" stroke="#000" stroke-width="1.25"/>
<circle cx="220.3" cy="519.6" r="3.68" fill="#E8728A" stroke="#000" stroke-width="1.25"/>
<circle cx="313.8" cy="457" r="3.68" fill="#E8728A" stroke="#000" stroke-width="1.25"/>
<circle cx="347.3" cy="448.4" r="3.68" fill="#E8728A" stroke="#000" stroke-width="1.25"/>
<circle cx="347.3" cy="453.4" r="3.68" fill="#E8728A" stroke="#000" stroke-width="1.25"/>
<circle cx="358" cy="452.7" r="3.68" fill="#E8728A" stroke="#000" stroke-width="1.25"/>
<circle cx="358" cy="462.7" r="3.68" fill="#E8728A" stroke="#000" stroke-width="1.25"/>
<circle cx="347.3" cy="493.8" r="3.68" fill="#E8728A" stroke="#000" stroke-width="1.25"/>
<circle cx="335.2" cy="452.7" r="3.68" fill="#E8728A" stroke="#000" stroke-width="1.25"/>
<line x1="219.4" y1="471.7" x2="357.3" y2="452" stroke="#E8728A" stroke-width="4.2" />
<line x1="219.4" y1="452" x2="357.3" y2="449.4" stroke="#7393F5" stroke-width="4.2" />
<rect x="277.2" y="173.5" width="24.8" height="2.4" rx="0" fill="#6a6a6a" stroke="none" stroke-width="1" />
<rect x="57.1" y="111" width="63.8" height="23.7" rx="2.5" fill="#000" stroke="none" stroke-width="1" opacity="0.07"/>
<rect x="56.6" y="110.1" width="63.8" height="23.7" rx="2.5" fill="#fff" stroke="#CACACA" stroke-width="1.1" fill-opacity="0.82"/>
<line x1="61" y1="116.1" x2="79.2" y2="116.1" stroke="#7393F5" stroke-width="4.2" stroke-opacity="0.92"/>
<line x1="61" y1="127.2" x2="79.2" y2="127.2" stroke="#E8728A" stroke-width="4.2" stroke-opacity="0.92"/>
<text x="83.6" y="120.8" font-size="10.3" fill="#111" stroke="#111" stroke-width="0.3" stroke-linejoin="round" textLength="32.7" lengthAdjust="spacingAndGlyphs">R<tspan dy="-3.6" font-size="6.4">2</tspan><tspan dy="3.6"> = </tspan>0.07</text>
<text x="83.6" y="131.9" font-size="10.3" fill="#111" stroke="#111" stroke-width="0.3" stroke-linejoin="round" textLength="31.9" lengthAdjust="spacingAndGlyphs">R<tspan dy="-3.6" font-size="6.4">2</tspan><tspan dy="3.6"> = </tspan>0.27</text>
<rect x="115.3" y="196.1" width="28.4" height="17.9" rx="3.8" fill="#fff" stroke="#000" stroke-width="1.7" />
<text x="129.7" y="210.25" font-size="15" text-anchor="middle" font-weight="bold" fill="#000" letter-spacing="1.7" stroke="#000" stroke-width="0.35" stroke-linejoin="round">NS</text>
<rect x="115.5" y="241.5" width="28.4" height="17.9" rx="3.8" fill="#fff" stroke="#000" stroke-width="1.7" />
<path d="M125.65,247.3 L125.65,254 M122.21,248.82 L129.09,252.48 M122.21,252.48 L129.09,248.82 " stroke="#000" stroke-width="1.1" stroke-linecap="round" fill="none"/>
<circle cx="125.65" cy="250.65" r="1.25" fill="#000"/>
<path d="M132.75,247.3 L132.75,254 M129.31,248.82 L136.19,252.48 M129.31,252.48 L136.19,248.82 " stroke="#000" stroke-width="1.1" stroke-linecap="round" fill="none"/>
<circle cx="132.75" cy="250.65" r="1.25" fill="#000"/>
<rect x="301.1" y="111" width="64" height="23.7" rx="2.5" fill="#000" stroke="none" stroke-width="1" opacity="0.07"/>
<rect x="300.6" y="110.1" width="64" height="23.7" rx="2.5" fill="#fff" stroke="#CACACA" stroke-width="1.1" fill-opacity="0.82"/>
<line x1="305" y1="116.1" x2="323.2" y2="116.1" stroke="#7393F5" stroke-width="4.2" stroke-opacity="0.92"/>
<line x1="305" y1="127.2" x2="323.2" y2="127.2" stroke="#E8728A" stroke-width="4.2" stroke-opacity="0.92"/>
<text x="327.6" y="120.8" font-size="10.3" fill="#111" stroke="#111" stroke-width="0.3" stroke-linejoin="round" textLength="33.2" lengthAdjust="spacingAndGlyphs">R<tspan dy="-3.6" font-size="6.4">2</tspan><tspan dy="3.6"> = </tspan>0.32</text>
<text x="327.6" y="131.9" font-size="10.3" fill="#111" stroke="#111" stroke-width="0.3" stroke-linejoin="round" textLength="33.8" lengthAdjust="spacingAndGlyphs">R<tspan dy="-3.6" font-size="6.4">2</tspan><tspan dy="3.6"> = </tspan>0.09</text>
<rect x="275.6" y="155.9" width="28.4" height="17.9" rx="3.8" fill="#fff" stroke="#000" stroke-width="1.7" />
<path d="M287.8,161.7 L287.8,168.4 M284.36,163.22 L291.24,166.88 M284.36,166.88 L291.24,163.22 " stroke="#000" stroke-width="1.1" stroke-linecap="round" fill="none"/>
<circle cx="287.8" cy="165.05" r="1.25" fill="#000"/>
<rect x="275.6" y="175.8" width="28.4" height="17.9" rx="3.8" fill="#fff" stroke="#000" stroke-width="1.7" />
<text x="290" y="189.95" font-size="15" text-anchor="middle" font-weight="bold" fill="#000" letter-spacing="1.7" stroke="#000" stroke-width="0.35" stroke-linejoin="round">NS</text>
<rect x="140.1" y="347.2" width="62.8" height="23.8" rx="2.5" fill="#000" stroke="none" stroke-width="1" opacity="0.07"/>
<rect x="139.6" y="346.3" width="62.8" height="23.8" rx="2.5" fill="#fff" stroke="#CACACA" stroke-width="1.1" fill-opacity="0.82"/>
<line x1="140.6" y1="352.3" x2="158.8" y2="352.3" stroke="#7393F5" stroke-width="4.2" stroke-opacity="0.92"/>
<line x1="140.6" y1="363.4" x2="158.8" y2="363.4" stroke="#E8728A" stroke-width="4.2" stroke-opacity="0.92"/>
<text x="163.1" y="357" font-size="10.3" fill="#111" stroke="#111" stroke-width="0.3" stroke-linejoin="round" textLength="38.3" lengthAdjust="spacingAndGlyphs">R<tspan dy="-3.6" font-size="6.4">2</tspan><tspan dy="3.6"> = </tspan>0.004</text>
<text x="163.1" y="368.1" font-size="10.3" fill="#111" stroke="#111" stroke-width="0.3" stroke-linejoin="round" textLength="33" lengthAdjust="spacingAndGlyphs">R<tspan dy="-3.6" font-size="6.4">2</tspan><tspan dy="3.6"> = </tspan>0.29</text>
<rect x="115.1" y="275.4" width="28.4" height="17.9" rx="3.8" fill="#fff" stroke="#000" stroke-width="1.7" />
<text x="129.5" y="289.55" font-size="15" text-anchor="middle" font-weight="bold" fill="#000" letter-spacing="1.7" stroke="#000" stroke-width="0.35" stroke-linejoin="round">NS</text>
<rect x="115.3" y="337.1" width="28.4" height="17.9" rx="3.8" fill="#fff" stroke="#000" stroke-width="1.7" />
<path d="M125.45,342.9 L125.45,349.6 M122.01,344.42 L128.89,348.08 M122.01,348.08 L128.89,344.42 " stroke="#000" stroke-width="1.1" stroke-linecap="round" fill="none"/>
<circle cx="125.45" cy="346.25" r="1.25" fill="#000"/>
<path d="M132.55,342.9 L132.55,349.6 M129.11,344.42 L135.99,348.08 M129.11,348.08 L135.99,344.42 " stroke="#000" stroke-width="1.1" stroke-linecap="round" fill="none"/>
<circle cx="132.55" cy="346.25" r="1.25" fill="#000"/>
<rect x="301.1" y="278" width="62.8" height="24" rx="2.5" fill="#000" stroke="none" stroke-width="1" opacity="0.07"/>
<rect x="300.6" y="277.1" width="62.8" height="24" rx="2.5" fill="#fff" stroke="#CACACA" stroke-width="1.1" fill-opacity="0.82"/>
<line x1="305" y1="283.1" x2="323.2" y2="283.1" stroke="#7393F5" stroke-width="4.2" stroke-opacity="0.92"/>
<line x1="305" y1="294.2" x2="323.2" y2="294.2" stroke="#E8728A" stroke-width="4.2" stroke-opacity="0.92"/>
<text x="327.6" y="287.8" font-size="10.3" fill="#111" stroke="#111" stroke-width="0.3" stroke-linejoin="round" textLength="33.2" lengthAdjust="spacingAndGlyphs">R<tspan dy="-3.6" font-size="6.4">2</tspan><tspan dy="3.6"> = </tspan>0.28</text>
<text x="327.6" y="298.9" font-size="10.3" fill="#111" stroke="#111" stroke-width="0.3" stroke-linejoin="round" textLength="31.2" lengthAdjust="spacingAndGlyphs">R<tspan dy="-3.6" font-size="6.4">2</tspan><tspan dy="3.6"> = </tspan>0.15</text>
<rect x="275.5" y="329.7" width="28.4" height="17.9" rx="3.8" fill="#fff" stroke="#000" stroke-width="1.7" />
<path d="M285.65,335.5 L285.65,342.2 M282.21,337.02 L289.09,340.68 M282.21,340.68 L289.09,337.02 " stroke="#000" stroke-width="1.1" stroke-linecap="round" fill="none"/>
<circle cx="285.65" cy="338.85" r="1.25" fill="#000"/>
<path d="M292.75,335.5 L292.75,342.2 M289.31,337.02 L296.19,340.68 M289.31,340.68 L296.19,337.02 " stroke="#000" stroke-width="1.1" stroke-linecap="round" fill="none"/>
<circle cx="292.75" cy="338.85" r="1.25" fill="#000"/>
<rect x="275.3" y="349.4" width="28.4" height="17.9" rx="3.8" fill="#fff" stroke="#000" stroke-width="1.7" />
<text x="289.7" y="363.55" font-size="15" text-anchor="middle" font-weight="bold" fill="#000" letter-spacing="1.7" stroke="#000" stroke-width="0.35" stroke-linejoin="round">NS</text>
<rect x="56.1" y="469.8" width="64.8" height="23.9" rx="2.5" fill="#000" stroke="none" stroke-width="1" opacity="0.07"/>
<rect x="55.6" y="468.9" width="64.8" height="23.9" rx="2.5" fill="#fff" stroke="#CACACA" stroke-width="1.1" fill-opacity="0.82"/>
<line x1="56.9" y1="474.9" x2="75.1" y2="474.9" stroke="#7393F5" stroke-width="4.2" stroke-opacity="0.92"/>
<line x1="56.9" y1="486" x2="75.1" y2="486" stroke="#E8728A" stroke-width="4.2" stroke-opacity="0.92"/>
<text x="75.7" y="479.6" font-size="10.3" fill="#111" stroke="#111" stroke-width="0.3" stroke-linejoin="round" textLength="43.2" lengthAdjust="spacingAndGlyphs">R<tspan dy="-3.6" font-size="6.4">2</tspan><tspan dy="3.6"> = </tspan>0.0005</text>
<text x="75.7" y="490.7" font-size="10.3" fill="#111" stroke="#111" stroke-width="0.3" stroke-linejoin="round" textLength="33" lengthAdjust="spacingAndGlyphs">R<tspan dy="-3.6" font-size="6.4">2</tspan><tspan dy="3.6"> = </tspan>0.45</text>
<rect x="115.5" y="437" width="28.4" height="17.9" rx="3.8" fill="#fff" stroke="#000" stroke-width="1.7" />
<text x="129.9" y="451.15" font-size="15" text-anchor="middle" font-weight="bold" fill="#000" letter-spacing="1.7" stroke="#000" stroke-width="0.35" stroke-linejoin="round">NS</text>
<rect x="114.9" y="498.4" width="28.4" height="17.9" rx="3.8" fill="#fff" stroke="#000" stroke-width="1.7" />
<path d="M121.6,504.2 L121.6,510.9 M118.16,505.72 L125.04,509.38 M118.16,509.38 L125.04,505.72 " stroke="#000" stroke-width="1.1" stroke-linecap="round" fill="none"/>
<circle cx="121.6" cy="507.55" r="1.25" fill="#000"/>
<path d="M128.7,504.2 L128.7,510.9 M125.26,505.72 L132.14,509.38 M125.26,509.38 L132.14,505.72 " stroke="#000" stroke-width="1.1" stroke-linecap="round" fill="none"/>
<circle cx="128.7" cy="507.55" r="1.25" fill="#000"/>
<path d="M135.8,504.2 L135.8,510.9 M132.36,505.72 L139.24,509.38 M132.36,509.38 L139.24,505.72 " stroke="#000" stroke-width="1.1" stroke-linecap="round" fill="none"/>
<circle cx="135.8" cy="507.55" r="1.25" fill="#000"/>
<rect x="300.6" y="567.8" width="63.3" height="24.2" rx="2.5" fill="#000" stroke="none" stroke-width="1" opacity="0.07"/>
<rect x="300.1" y="566.9" width="63.3" height="24.2" rx="2.5" fill="#fff" stroke="#CACACA" stroke-width="1.1" fill-opacity="0.82"/>
<line x1="304.4" y1="572.9" x2="322.6" y2="572.9" stroke="#7393F5" stroke-width="4.2" stroke-opacity="0.92"/>
<line x1="304.4" y1="584" x2="322.6" y2="584" stroke="#E8728A" stroke-width="4.2" stroke-opacity="0.92"/>
<text x="327.1" y="577.6" font-size="10.3" fill="#111" stroke="#111" stroke-width="0.3" stroke-linejoin="round" textLength="32.4" lengthAdjust="spacingAndGlyphs">R<tspan dy="-3.6" font-size="6.4">2</tspan><tspan dy="3.6"> = </tspan>0.07</text>
<text x="327.1" y="588.7" font-size="10.3" fill="#111" stroke="#111" stroke-width="0.3" stroke-linejoin="round" textLength="31.7" lengthAdjust="spacingAndGlyphs">R<tspan dy="-3.6" font-size="6.4">2</tspan><tspan dy="3.6"> = </tspan>0.16</text>
<rect x="275.2" y="438.2" width="28.4" height="17.9" rx="3.8" fill="#fff" stroke="#000" stroke-width="1.7" />
<text x="289.6" y="452.35" font-size="15" text-anchor="middle" font-weight="bold" fill="#000" letter-spacing="1.7" stroke="#000" stroke-width="0.35" stroke-linejoin="round">NS</text>
<rect x="275.2" y="457.7" width="28.4" height="17.9" rx="3.8" fill="#fff" stroke="#000" stroke-width="1.7" />
<text x="289.6" y="471.85" font-size="15" text-anchor="middle" font-weight="bold" fill="#000" letter-spacing="1.7" stroke="#000" stroke-width="0.35" stroke-linejoin="round">NS</text>
<line x1="402" y1="245" x2="402" y2="253.3" stroke="#333" stroke-width="1.1" />
<line x1="402" y1="260.5" x2="402" y2="260.5" stroke="#333" stroke-width="1.1" />
<rect x="397.2" y="253.3" width="9.6" height="7.2" rx="0" fill="#F8766D" stroke="#333" stroke-width="1.1" />
<line x1="397.2" y1="258.6" x2="406.8" y2="258.6" stroke="#333" stroke-width="1.3" />
<line x1="420.3" y1="254.8" x2="420.3" y2="257.4" stroke="#333" stroke-width="1.1" />
<line x1="420.3" y1="260.8" x2="420.3" y2="260.8" stroke="#333" stroke-width="1.1" />
<rect x="415.5" y="257.4" width="9.6" height="3.4" rx="0" fill="#00BA38" stroke="#333" stroke-width="1.1" />
<line x1="415.5" y1="260.2" x2="425.1" y2="260.2" stroke="#333" stroke-width="1.3" />
<line x1="438.4" y1="238.3" x2="438.4" y2="242.5" stroke="#333" stroke-width="1.1" />
<line x1="438.4" y1="251.5" x2="438.4" y2="254.8" stroke="#333" stroke-width="1.1" />
<rect x="433.6" y="242.5" width="9.6" height="9" rx="0" fill="#619CFF" stroke="#333" stroke-width="1.1" />
<line x1="433.6" y1="247.3" x2="443.2" y2="247.3" stroke="#333" stroke-width="1.3" />
<circle cx="439.2" cy="210.5" r="2.2" fill="#619CFF" stroke="#222" stroke-width="0.9"/>
<text x="402" y="239.7" font-size="13.8" text-anchor="middle" font-weight="bold" fill="#000" stroke="#000" stroke-width="0.3" stroke-linejoin="round">b</text>
<text x="420.3" y="251.8" font-size="13.8" text-anchor="middle" font-weight="bold" fill="#000" stroke="#000" stroke-width="0.3" stroke-linejoin="round">b</text>
<text x="438.6" y="234.9" font-size="13.8" text-anchor="middle" font-weight="bold" fill="#000" stroke="#000" stroke-width="0.3" stroke-linejoin="round">a</text>
<line x1="401.6" y1="198.5" x2="439.4" y2="198.5" stroke="#1a1a1a" stroke-width="1.2" />
<path d="M398.6,195.8 L402.4,198.5 L398.6,201.2 Z" fill="#fff" stroke="#333" stroke-width="0.85" stroke-linejoin="round"/>
<path d="M442.4,195.8 L438.6,198.5 L442.4,201.2 Z" fill="#fff" stroke="#333" stroke-width="0.85" stroke-linejoin="round"/>
<rect x="414.9" y="185" width="10.8" height="11" rx="1.2" fill="#FCFCFC" stroke="#8c8c8c" stroke-width="0.9" />
<path d="M420.3,187.5 L420.3,193.5 M417.21,188.65 L423.39,192.35 M417.21,192.35 L423.39,188.65 " stroke="#000" stroke-width="1.4" stroke-linecap="round" fill="none"/>
<circle cx="420.3" cy="190.5" r="1.4" fill="#000"/>
<path d="M476.55,148.5 L476.5,170 L476.4,186 L476.1,190 L475.5,193 L474.9,197 L474.1,201 L473.8,205 L473.9,208.5 L474.5,210 L475.4,210.5 L478.6,210.5 L479.5,210 L480.1,208.5 L480.2,205 L479.9,201 L479.1,197 L478.5,193 L477.9,190 L477.6,186 L477.5,170 L477.45,148.5 Z" fill="#F8766D" stroke="#333" stroke-width="0.9" stroke-linejoin="round"/>
<path d="M484,223.4 L484.4,224.6 L487.7,225.6 L488.4,227.5 L488.4,230 L500,230 L500,227.5 L500.7,225.6 L504,224.6 L504.4,223.4 Z" fill="#00BA38" stroke="#333" stroke-width="0.9" stroke-linejoin="round"/>
<path d="M511.1,163.2 L510.6,175 L510,190 L509.8,205 L510,220 L510.4,228 L511,231.5 L512.2,231.5 L512.8,228 L513.2,220 L513.4,205 L513.2,190 L512.6,175 L512.1,163.2 Z" fill="#619CFF" stroke="#333" stroke-width="0.9" stroke-linejoin="round"/>
<text x="477" y="148" font-size="13.8" text-anchor="middle" font-weight="bold" fill="#000" stroke="#000" stroke-width="0.3" stroke-linejoin="round">a</text>
<text x="494.2" y="220.2" font-size="13.8" text-anchor="middle" font-weight="bold" fill="#000" stroke="#000" stroke-width="0.3" stroke-linejoin="round">a</text>
<text x="511.6" y="159.5" font-size="13.8" text-anchor="middle" font-weight="bold" fill="#000" stroke="#000" stroke-width="0.3" stroke-linejoin="round">a</text>
<line x1="479" y1="134.5" x2="510.8" y2="134.5" stroke="#1a1a1a" stroke-width="1.2" />
<path d="M476,131.8 L479.8,134.5 L476,137.2 Z" fill="#fff" stroke="#333" stroke-width="0.85" stroke-linejoin="round"/>
<path d="M513.8,131.8 L510,134.5 L513.8,137.2 Z" fill="#fff" stroke="#333" stroke-width="0.85" stroke-linejoin="round"/>
<rect x="484.2" y="119.6" width="20.3" height="12.5" rx="2.6" fill="#fff" stroke="#222" stroke-width="0.9" />
<text x="494.85" y="129.55" font-size="10.2" text-anchor="middle" font-weight="bold" fill="#000" letter-spacing="1.2" stroke="#000" stroke-width="0.3" stroke-linejoin="round">NS</text>
<line x1="556.5" y1="162.1" x2="556.5" y2="168.5" stroke="#333" stroke-width="1.1" />
<line x1="556.5" y1="180.2" x2="556.5" y2="188.5" stroke="#333" stroke-width="1.1" />
<rect x="551.7" y="168.5" width="9.6" height="11.7" rx="0" fill="#F8766D" stroke="#333" stroke-width="1.1" />
<line x1="551.7" y1="173.2" x2="561.3" y2="173.2" stroke="#333" stroke-width="1.3" />
<line x1="574.5" y1="172" x2="574.5" y2="179.5" stroke="#333" stroke-width="1.1" />
<line x1="574.5" y1="188.9" x2="574.5" y2="190.6" stroke="#333" stroke-width="1.1" />
<rect x="569.7" y="179.5" width="9.6" height="9.4" rx="0" fill="#00BA38" stroke="#333" stroke-width="1.1" />
<line x1="569.7" y1="187" x2="579.3" y2="187" stroke="#333" stroke-width="1.3" />
<line x1="593" y1="166.6" x2="593" y2="179.5" stroke="#333" stroke-width="1.1" />
<line x1="593" y1="195.3" x2="593" y2="207.4" stroke="#333" stroke-width="1.1" />
<rect x="588.2" y="179.5" width="9.6" height="15.8" rx="0" fill="#619CFF" stroke="#333" stroke-width="1.1" />
<line x1="588.2" y1="184.3" x2="597.8" y2="184.3" stroke="#333" stroke-width="1.3" />
<text x="556.5" y="160.9" font-size="13.8" text-anchor="middle" font-weight="bold" fill="#000" stroke="#000" stroke-width="0.3" stroke-linejoin="round">a</text>
<text x="574.5" y="170.5" font-size="13.8" text-anchor="middle" font-weight="bold" fill="#000" stroke="#000" stroke-width="0.3" stroke-linejoin="round">a</text>
<text x="593" y="165.1" font-size="13.8" text-anchor="middle" font-weight="bold" fill="#000" stroke="#000" stroke-width="0.3" stroke-linejoin="round">a</text>
<line x1="555.3" y1="137.5" x2="592.9" y2="137.5" stroke="#1a1a1a" stroke-width="1.2" />
<path d="M552.3,134.8 L556.1,137.5 L552.3,140.2 Z" fill="#fff" stroke="#333" stroke-width="0.85" stroke-linejoin="round"/>
<path d="M595.9,134.8 L592.1,137.5 L595.9,140.2 Z" fill="#fff" stroke="#333" stroke-width="0.85" stroke-linejoin="round"/>
<rect x="563.4" y="119.3" width="21.4" height="13.1" rx="2.6" fill="#fff" stroke="#222" stroke-width="0.9" />
<text x="574.6" y="129.55" font-size="10.2" text-anchor="middle" font-weight="bold" fill="#000" letter-spacing="1.2" stroke="#000" stroke-width="0.3" stroke-linejoin="round">NS</text>
<path d="M631.8,120 L631.6,124 L632.1,130 L632,140.7 L631,148 L629.8,155 L629.2,161 L629.3,168 L629.8,172.5 L630.8,174.2 L634.8,174.2 L635.8,172.5 L636.3,168 L636.4,161 L635.8,155 L634.6,148 L633.6,140.7 L633.5,130 L634,124 L633.8,120 Z" fill="#F8766D" stroke="#333" stroke-width="0.9" stroke-linejoin="round"/>
<path d="M645.4,143.5 L645.6,146 L646.7,150 L647,155 L646.9,160 L646.4,164.9 L653.6,164.9 L653.1,160 L653,155 L653.3,150 L654.4,146 L654.6,143.5 Z" fill="#00BA38" stroke="#333" stroke-width="0.9" stroke-linejoin="round"/>
<path d="M666.2,115 L666.1,140.7 L665.6,160 L665,180 L665,200 L665.4,212 L666,221.7 L667.6,221.7 L668.2,212 L668.6,200 L668.6,180 L668,160 L667.5,140.7 L667.4,115 Z" fill="#619CFF" stroke="#333" stroke-width="0.9" stroke-linejoin="round"/>
<text x="632.8" y="185.1" font-size="13.8" text-anchor="middle" font-weight="bold" fill="#000" stroke="#000" stroke-width="0.3" stroke-linejoin="round">a</text>
<text x="650" y="177.7" font-size="13.8" text-anchor="middle" font-weight="bold" fill="#000" stroke="#000" stroke-width="0.3" stroke-linejoin="round">a</text>
<text x="666.7" y="234" font-size="13.8" text-anchor="middle" font-weight="bold" fill="#000" stroke="#000" stroke-width="0.3" stroke-linejoin="round">a</text>
<line x1="633.3" y1="238.5" x2="664.5" y2="238.5" stroke="#1a1a1a" stroke-width="1.2" />
<path d="M630.3,235.8 L634.1,238.5 L630.3,241.2 Z" fill="#fff" stroke="#333" stroke-width="0.85" stroke-linejoin="round"/>
<path d="M667.5,235.8 L663.7,238.5 L667.5,241.2 Z" fill="#fff" stroke="#333" stroke-width="0.85" stroke-linejoin="round"/>
<rect x="638.4" y="243.5" width="20.1" height="12.8" rx="2.6" fill="#fff" stroke="#222" stroke-width="0.9" />
<text x="648.95" y="253.6" font-size="10.2" text-anchor="middle" font-weight="bold" fill="#000" letter-spacing="1.2" stroke="#000" stroke-width="0.3" stroke-linejoin="round">NS</text>
<line x1="402" y1="372.1" x2="402" y2="374.2" stroke="#333" stroke-width="1.1" />
<line x1="402" y1="396.1" x2="402" y2="424.9" stroke="#333" stroke-width="1.1" />
<rect x="397.2" y="374.2" width="9.6" height="21.9" rx="0" fill="#F8766D" stroke="#333" stroke-width="1.1" />
<line x1="397.2" y1="381" x2="406.8" y2="381" stroke="#333" stroke-width="1.3" />
<line x1="420.3" y1="349.3" x2="420.3" y2="382.8" stroke="#333" stroke-width="1.1" />
<line x1="420.3" y1="420.6" x2="420.3" y2="424.9" stroke="#333" stroke-width="1.1" />
<rect x="415.5" y="382.8" width="9.6" height="37.8" rx="0" fill="#00BA38" stroke="#333" stroke-width="1.1" />
<line x1="415.5" y1="416.3" x2="425.1" y2="416.3" stroke="#333" stroke-width="1.3" />
<line x1="438.4" y1="281.1" x2="438.4" y2="293.4" stroke="#333" stroke-width="1.1" />
<line x1="438.4" y1="307.7" x2="438.4" y2="309.4" stroke="#333" stroke-width="1.1" />
<rect x="433.6" y="293.4" width="9.6" height="14.3" rx="0" fill="#619CFF" stroke="#333" stroke-width="1.1" />
<line x1="433.6" y1="298" x2="443.2" y2="298" stroke="#333" stroke-width="1.3" />
<circle cx="402" cy="312.2" r="3.15" fill="#F8766D" stroke="#222" stroke-width="0.9"/>
<circle cx="439.5" cy="335" r="3.15" fill="#619CFF" stroke="#222" stroke-width="0.9"/>
<circle cx="439.5" cy="380" r="3.15" fill="#619CFF" stroke="#222" stroke-width="0.9"/>
<circle cx="439.5" cy="412" r="3.15" fill="#619CFF" stroke="#222" stroke-width="0.9"/>
<text x="402" y="369.5" font-size="13.8" text-anchor="middle" font-weight="bold" fill="#000" stroke="#000" stroke-width="0.3" stroke-linejoin="round">b</text>
<text x="419.8" y="346" font-size="13.8" text-anchor="middle" font-weight="bold" fill="#000" stroke="#000" stroke-width="0.3" stroke-linejoin="round">b</text>
<text x="438.5" y="281.1" font-size="13.8" text-anchor="middle" font-weight="bold" fill="#000" stroke="#000" stroke-width="0.3" stroke-linejoin="round">a</text>
<line x1="401.4" y1="327.5" x2="439.2" y2="327.5" stroke="#1a1a1a" stroke-width="1.2" />
<path d="M398.4,324.8 L402.2,327.5 L398.4,330.2 Z" fill="#fff" stroke="#333" stroke-width="0.85" stroke-linejoin="round"/>
<path d="M442.2,324.8 L438.4,327.5 L442.2,330.2 Z" fill="#fff" stroke="#333" stroke-width="0.85" stroke-linejoin="round"/>
<rect x="414.5" y="312.5" width="11.4" height="10.8" rx="1.2" fill="#FCFCFC" stroke="#8c8c8c" stroke-width="0.9" />
<path d="M420.2,314.9 L420.2,320.9 M417.11,316.05 L423.29,319.75 M417.11,319.75 L423.29,316.05 " stroke="#000" stroke-width="1.4" stroke-linecap="round" fill="none"/>
<circle cx="420.2" cy="317.9" r="1.4" fill="#000"/>
<path d="M473.8,279.3 L474,280.3 L475.6,281.6 L476.2,282.4 L476.4,284.2 L477.6,284.2 L477.8,282.4 L478.4,281.6 L480,280.3 L480.2,279.3 Z" fill="#F8766D" stroke="#333" stroke-width="0.9" stroke-linejoin="round"/>
<line x1="484.4" y1="283.2" x2="504" y2="283.2" stroke="#666" stroke-width="1.3" />
<line x1="487" y1="283.2" x2="501.4" y2="283.2" stroke="#00BA38" stroke-width="0.8" />
<path d="M510.9,279.3 L510.2,280.5 L510.2,284 L510.8,286 L511.35,288 L511.4,300.2 L512.2,300.2 L512.25,288 L512.8,286 L513.4,284 L513.4,280.5 L512.7,279.3 Z" fill="#619CFF" stroke="#333" stroke-width="0.9" stroke-linejoin="round"/>
<text x="477" y="298.2" font-size="13.8" text-anchor="middle" font-weight="bold" fill="#000" stroke="#000" stroke-width="0.3" stroke-linejoin="round">a</text>
<text x="494" y="298.2" font-size="13.8" text-anchor="middle" font-weight="bold" fill="#000" stroke="#000" stroke-width="0.3" stroke-linejoin="round">ab</text>
<text x="511.6" y="312.5" font-size="13.8" text-anchor="middle" font-weight="bold" fill="#000" stroke="#000" stroke-width="0.3" stroke-linejoin="round">b</text>
<line x1="479" y1="317.5" x2="510.3" y2="317.5" stroke="#1a1a1a" stroke-width="1.2" />
<path d="M476,314.8 L479.8,317.5 L476,320.2 Z" fill="#fff" stroke="#333" stroke-width="0.85" stroke-linejoin="round"/>
<path d="M513.3,314.8 L509.5,317.5 L513.3,320.2 Z" fill="#fff" stroke="#333" stroke-width="0.85" stroke-linejoin="round"/>
<rect x="489.1" y="321.5" width="11.1" height="11.4" rx="1.2" fill="#FCFCFC" stroke="#8c8c8c" stroke-width="0.9" />
<path d="M494.65,324.2 L494.65,330.2 M491.56,325.35 L497.74,329.05 M491.56,329.05 L497.74,325.35 " stroke="#000" stroke-width="1.4" stroke-linecap="round" fill="none"/>
<circle cx="494.65" cy="327.2" r="1.4" fill="#000"/>
<line x1="556.5" y1="343.3" x2="556.5" y2="346.2" stroke="#333" stroke-width="1.1" />
<line x1="556.5" y1="355.7" x2="556.5" y2="356.9" stroke="#333" stroke-width="1.1" />
<rect x="551.7" y="346.2" width="9.6" height="9.5" rx="0" fill="#F8766D" stroke="#333" stroke-width="1.1" />
<line x1="551.7" y1="350.5" x2="561.3" y2="350.5" stroke="#333" stroke-width="1.3" />
<line x1="574.5" y1="355" x2="574.5" y2="373.4" stroke="#333" stroke-width="1.1" />
<line x1="574.5" y1="398.4" x2="574.5" y2="405.1" stroke="#333" stroke-width="1.1" />
<rect x="569.7" y="373.4" width="9.6" height="25" rx="0" fill="#00BA38" stroke="#333" stroke-width="1.1" />
<line x1="569.7" y1="392" x2="579.3" y2="392" stroke="#333" stroke-width="1.3" />
<line x1="593" y1="339.3" x2="593" y2="345.5" stroke="#333" stroke-width="1.1" />
<line x1="593" y1="353.6" x2="593" y2="363.3" stroke="#333" stroke-width="1.1" />
<rect x="588.2" y="345.5" width="9.6" height="8.1" rx="0" fill="#619CFF" stroke="#333" stroke-width="1.1" />
<line x1="588.2" y1="346.7" x2="597.8" y2="346.7" stroke="#333" stroke-width="1.3" />
<circle cx="557.6" cy="380.4" r="3.15" fill="#F8766D" stroke="#222" stroke-width="0.9"/>
<circle cx="593.7" cy="396.9" r="3.15" fill="#619CFF" stroke="#222" stroke-width="0.9"/>
<text x="556.5" y="340.3" font-size="13.8" text-anchor="middle" font-weight="bold" fill="#000" stroke="#000" stroke-width="0.3" stroke-linejoin="round">a</text>
<text x="574.5" y="352.4" font-size="13.8" text-anchor="middle" font-weight="bold" fill="#000" stroke="#000" stroke-width="0.3" stroke-linejoin="round">a</text>
<text x="593" y="338.8" font-size="13.8" text-anchor="middle" font-weight="bold" fill="#000" stroke="#000" stroke-width="0.3" stroke-linejoin="round">a</text>
<line x1="555.3" y1="311.5" x2="592.9" y2="311.5" stroke="#1a1a1a" stroke-width="1.2" />
<path d="M552.3,308.8 L556.1,311.5 L552.3,314.2 Z" fill="#fff" stroke="#333" stroke-width="0.85" stroke-linejoin="round"/>
<path d="M595.9,308.8 L592.1,311.5 L595.9,314.2 Z" fill="#fff" stroke="#333" stroke-width="0.85" stroke-linejoin="round"/>
<rect x="563.4" y="293.4" width="21.4" height="13.1" rx="2.6" fill="#fff" stroke="#222" stroke-width="0.9" />
<text x="574.6" y="303.65" font-size="10.2" text-anchor="middle" font-weight="bold" fill="#000" letter-spacing="1.2" stroke="#000" stroke-width="0.3" stroke-linejoin="round">NS</text>
<path d="M631.4,333.3 L631.3,338 L630.5,341 L629.6,344 L629.3,347 L629.6,350 L630.6,352 L631.6,352.9 L634,352.9 L635,352 L636,350 L636.3,347 L636,344 L635.1,341 L634.3,338 L634.2,333.3 Z" fill="#F8766D" stroke="#333" stroke-width="0.9" stroke-linejoin="round"/>
<path d="M640,347 L640.4,348 L644.5,349.5 L645.3,351.5 L654.7,351.5 L655.5,349.5 L659.6,348 L660,347 Z" fill="#00BA38" stroke="#333" stroke-width="0.9" stroke-linejoin="round"/>
<path d="M666,317.2 L665.6,325 L665,335 L664.8,345 L665.2,352 L666.2,359.6 L667.4,359.6 L668.4,352 L668.8,345 L668.6,335 L668,325 L667.6,317.2 Z" fill="#619CFF" stroke="#333" stroke-width="0.9" stroke-linejoin="round"/>
<text x="632.8" y="331" font-size="13.8" text-anchor="middle" font-weight="bold" fill="#000" stroke="#000" stroke-width="0.3" stroke-linejoin="round">a</text>
<text x="650" y="344.5" font-size="13.8" text-anchor="middle" font-weight="bold" fill="#000" stroke="#000" stroke-width="0.3" stroke-linejoin="round">a</text>
<text x="666.8" y="314.6" font-size="13.8" text-anchor="middle" font-weight="bold" fill="#000" stroke="#000" stroke-width="0.3" stroke-linejoin="round">a</text>
<line x1="632.5" y1="298.5" x2="664.8" y2="298.5" stroke="#1a1a1a" stroke-width="1.2" />
<path d="M629.5,295.8 L633.3,298.5 L629.5,301.2 Z" fill="#fff" stroke="#333" stroke-width="0.85" stroke-linejoin="round"/>
<path d="M667.8,295.8 L664,298.5 L667.8,301.2 Z" fill="#fff" stroke="#333" stroke-width="0.85" stroke-linejoin="round"/>
<rect x="638.5" y="283.7" width="20.4" height="12.1" rx="2.6" fill="#fff" stroke="#222" stroke-width="0.9" />
<text x="649.2" y="293.45" font-size="10.2" text-anchor="middle" font-weight="bold" fill="#000" letter-spacing="1.2" stroke="#000" stroke-width="0.3" stroke-linejoin="round">NS</text>
<line x1="402" y1="522.1" x2="402" y2="535.4" stroke="#333" stroke-width="1.1" />
<line x1="402" y1="558.9" x2="402" y2="589.6" stroke="#333" stroke-width="1.1" />
<rect x="397.2" y="535.4" width="9.6" height="23.5" rx="0" fill="#F8766D" stroke="#333" stroke-width="1.1" />
<line x1="397.2" y1="554.7" x2="406.8" y2="554.7" stroke="#333" stroke-width="1.3" />
<line x1="420.3" y1="538.2" x2="420.3" y2="562.5" stroke="#333" stroke-width="1.1" />
<line x1="420.3" y1="587" x2="420.3" y2="587" stroke="#333" stroke-width="1.1" />
<rect x="415.5" y="562.5" width="9.6" height="24.5" rx="0" fill="#00BA38" stroke="#333" stroke-width="1.1" />
<line x1="415.5" y1="586.6" x2="425.1" y2="586.6" stroke="#333" stroke-width="1.3" />
<line x1="438.4" y1="444.6" x2="438.4" y2="448.4" stroke="#333" stroke-width="1.1" />
<line x1="438.4" y1="456.5" x2="438.4" y2="458.4" stroke="#333" stroke-width="1.1" />
<rect x="433.6" y="448.4" width="9.6" height="8.1" rx="0" fill="#619CFF" stroke="#333" stroke-width="1.1" />
<line x1="433.6" y1="450.5" x2="443.2" y2="450.5" stroke="#333" stroke-width="1.3" />
<circle cx="439.5" cy="478.8" r="3.15" fill="#619CFF" stroke="#222" stroke-width="0.9"/>
<circle cx="439.5" cy="534.3" r="3.15" fill="#619CFF" stroke="#222" stroke-width="0.9"/>
<circle cx="439.5" cy="571.1" r="3.15" fill="#619CFF" stroke="#222" stroke-width="0.9"/>
<text x="402" y="519.2" font-size="13.8" text-anchor="middle" font-weight="bold" fill="#000" stroke="#000" stroke-width="0.3" stroke-linejoin="round">b</text>
<text x="420" y="535.2" font-size="13.8" text-anchor="middle" font-weight="bold" fill="#000" stroke="#000" stroke-width="0.3" stroke-linejoin="round">b</text>
<text x="438.5" y="445.3" font-size="13.8" text-anchor="middle" font-weight="bold" fill="#000" stroke="#000" stroke-width="0.3" stroke-linejoin="round">a</text>
<line x1="401.4" y1="485.5" x2="439.4" y2="485.5" stroke="#1a1a1a" stroke-width="1.2" />
<path d="M398.4,482.8 L402.2,485.5 L398.4,488.2 Z" fill="#fff" stroke="#333" stroke-width="0.85" stroke-linejoin="round"/>
<path d="M442.4,482.8 L438.6,485.5 L442.4,488.2 Z" fill="#fff" stroke="#333" stroke-width="0.85" stroke-linejoin="round"/>
<rect x="414.5" y="470.2" width="11.4" height="10.3" rx="1.2" fill="#FCFCFC" stroke="#8c8c8c" stroke-width="0.9" />
<path d="M420.2,472.35 L420.2,478.35 M417.11,473.5 L423.29,477.2 M417.11,477.2 L423.29,473.5 " stroke="#000" stroke-width="1.4" stroke-linecap="round" fill="none"/>
<circle cx="420.2" cy="475.35" r="1.4" fill="#000"/>
<path d="M470.5,443.7 L470.7,444.7 L474.5,445.2 L474.9,446 L475.9,446.7 L477.9,446.7 L478.9,446 L479.3,445.2 L483.1,444.7 L483.3,443.7 Z" fill="#F8766D" stroke="#333" stroke-width="0.9" stroke-linejoin="round"/>
<line x1="484.4" y1="446.3" x2="504" y2="446.3" stroke="#777" stroke-width="1.2" />
<line x1="487" y1="446.3" x2="501.4" y2="446.3" stroke="#5a8a5a" stroke-width="0.6" />
<path d="M507.6,443.6 L506.9,444.1 L507.4,445.4 L510,446.2 L510.6,448 L510.5,451 L510.8,452.5 L511.3,453.1 L512.7,453.1 L513.2,452.5 L513.5,451 L513.4,448 L514,446.2 L516.6,445.4 L517.1,444.1 L516.4,443.6 Z" fill="#619CFF" stroke="#333" stroke-width="0.9" stroke-linejoin="round"/>
<text x="477" y="462.9" font-size="13.8" text-anchor="middle" font-weight="bold" fill="#000" stroke="#000" stroke-width="0.3" stroke-linejoin="round">a</text>
<text x="494" y="462.9" font-size="13.8" text-anchor="middle" font-weight="bold" fill="#000" stroke="#000" stroke-width="0.3" stroke-linejoin="round">a</text>
<text x="511.6" y="462.9" font-size="13.8" text-anchor="middle" font-weight="bold" fill="#000" stroke="#000" stroke-width="0.3" stroke-linejoin="round">a</text>
<line x1="479" y1="472.5" x2="510.5" y2="472.5" stroke="#1a1a1a" stroke-width="1.2" />
<path d="M476,469.8 L479.8,472.5 L476,475.2 Z" fill="#fff" stroke="#333" stroke-width="0.85" stroke-linejoin="round"/>
<path d="M513.5,469.8 L509.7,472.5 L513.5,475.2 Z" fill="#fff" stroke="#333" stroke-width="0.85" stroke-linejoin="round"/>
<rect x="484.2" y="475.5" width="20.3" height="12.8" rx="2.6" fill="#fff" stroke="#222" stroke-width="0.9" />
<text x="494.85" y="485.6" font-size="10.2" text-anchor="middle" font-weight="bold" fill="#000" letter-spacing="1.2" stroke="#000" stroke-width="0.3" stroke-linejoin="round">NS</text>
<line x1="556.5" y1="450.5" x2="556.5" y2="450.5" stroke="#333" stroke-width="1.1" />
<line x1="556.5" y1="453.4" x2="556.5" y2="453.4" stroke="#333" stroke-width="1.1" />
<rect x="551.7" y="450.5" width="9.6" height="2.9" rx="0" fill="#F8766D" stroke="#333" stroke-width="1.1" />
<line x1="551.7" y1="452" x2="561.3" y2="452" stroke="#333" stroke-width="1.3" />
<line x1="574.5" y1="452.3" x2="574.5" y2="477.4" stroke="#333" stroke-width="1.1" />
<line x1="574.5" y1="510.2" x2="574.5" y2="518.3" stroke="#333" stroke-width="1.1" />
<rect x="569.7" y="477.4" width="9.6" height="32.8" rx="0" fill="#00BA38" stroke="#333" stroke-width="1.1" />
<line x1="569.7" y1="501.9" x2="579.3" y2="501.9" stroke="#333" stroke-width="1.3" />
<line x1="593" y1="448.4" x2="593" y2="451" stroke="#333" stroke-width="1.1" />
<line x1="593" y1="455.5" x2="593" y2="461.5" stroke="#333" stroke-width="1.1" />
<rect x="588.2" y="451" width="9.6" height="4.5" rx="0" fill="#619CFF" stroke="#333" stroke-width="1.1" />
<line x1="588.2" y1="452.7" x2="597.8" y2="452.7" stroke="#333" stroke-width="1.3" />
<circle cx="557.7" cy="472.9" r="3.15" fill="#F8766D" stroke="#222" stroke-width="0.9"/>
<circle cx="593.8" cy="493.6" r="3.15" fill="#619CFF" stroke="#222" stroke-width="0.9"/>
<text x="556.5" y="448.6" font-size="13.8" text-anchor="middle" font-weight="bold" fill="#000" stroke="#000" stroke-width="0.3" stroke-linejoin="round">a</text>
<text x="574.5" y="450.8" font-size="13.8" text-anchor="middle" font-weight="bold" fill="#000" stroke="#000" stroke-width="0.3" stroke-linejoin="round">a</text>
<text x="593" y="446.8" font-size="13.8" text-anchor="middle" font-weight="bold" fill="#000" stroke="#000" stroke-width="0.3" stroke-linejoin="round">a</text>
<line x1="555.3" y1="542.5" x2="592.9" y2="542.5" stroke="#1a1a1a" stroke-width="1.2" />
<path d="M552.3,539.8 L556.1,542.5 L552.3,545.2 Z" fill="#fff" stroke="#333" stroke-width="0.85" stroke-linejoin="round"/>
<path d="M595.9,539.8 L592.1,542.5 L595.9,545.2 Z" fill="#fff" stroke="#333" stroke-width="0.85" stroke-linejoin="round"/>
<rect x="563.4" y="548.2" width="21.4" height="12.4" rx="2.6" fill="#fff" stroke="#222" stroke-width="0.9" />
<text x="574.6" y="558.1" font-size="10.2" text-anchor="middle" font-weight="bold" fill="#000" letter-spacing="1.2" stroke="#000" stroke-width="0.3" stroke-linejoin="round">NS</text>
<path d="M630.25,447.3 L627.85,449.3 L626.1,451 L628.35,453 L631.55,455.2 L631.95,456.3 L631.05,457.8 L631.05,458.8 L634.65,458.8 L634.65,457.8 L633.75,456.3 L634.15,455.2 L637.35,453 L639.6,451 L637.85,449.3 L635.45,447.3 Z" fill="#F8766D" stroke="#333" stroke-width="0.9" stroke-linejoin="round"/>
<path d="M641.8,450.3 L640.4,451.6 L641.2,453 L659.2,453 L660,451.6 L658.6,450.3 Z" fill="#00BA38" stroke="#333" stroke-width="0.9" stroke-linejoin="round"/>
<path d="M661.75,447.1 L661.2,447.8 L661.55,449 L662.95,450.5 L664.35,452 L664.55,455.5 L665.15,457 L665.95,457.6 L667.95,457.6 L668.75,457 L669.35,455.5 L669.55,452 L670.95,450.5 L672.35,449 L672.7,447.8 L672.15,447.1 Z" fill="#619CFF" stroke="#333" stroke-width="0.9" stroke-linejoin="round"/>
<text x="633" y="472.5" font-size="13.8" text-anchor="middle" font-weight="bold" fill="#000" stroke="#000" stroke-width="0.3" stroke-linejoin="round">a</text>
<text x="650" y="472.5" font-size="13.8" text-anchor="middle" font-weight="bold" fill="#000" stroke="#000" stroke-width="0.3" stroke-linejoin="round">a</text>
<text x="667" y="472.5" font-size="13.8" text-anchor="middle" font-weight="bold" fill="#000" stroke="#000" stroke-width="0.3" stroke-linejoin="round">a</text>
<line x1="632.5" y1="479.5" x2="664.8" y2="479.5" stroke="#1a1a1a" stroke-width="1.2" />
<path d="M629.5,476.8 L633.3,479.5 L629.5,482.2 Z" fill="#fff" stroke="#333" stroke-width="0.85" stroke-linejoin="round"/>
<path d="M667.8,476.8 L664,479.5 L667.8,482.2 Z" fill="#fff" stroke="#333" stroke-width="0.85" stroke-linejoin="round"/>
<rect x="638.5" y="485.9" width="20.4" height="12.4" rx="2.6" fill="#fff" stroke="#222" stroke-width="0.9" />
<text x="649.2" y="495.8" font-size="10.2" text-anchor="middle" font-weight="bold" fill="#000" letter-spacing="1.2" stroke="#000" stroke-width="0.3" stroke-linejoin="round">NS</text>
<rect x="52.5" y="107.8" width="153.1" height="160.9" rx="0" fill="none" stroke="#000" stroke-width="1.4" />
<rect x="212.8" y="107.8" width="152.8" height="160.9" rx="0" fill="none" stroke="#000" stroke-width="1.4" />
<rect x="373" y="107.8" width="152.9" height="160.9" rx="0" fill="none" stroke="#333" stroke-width="1.4" />
<rect x="532.1" y="107.8" width="152.4" height="160.9" rx="0" fill="none" stroke="#333" stroke-width="1.4" />
<rect x="52.5" y="272.1" width="153.1" height="160.6" rx="0" fill="none" stroke="#000" stroke-width="1.4" />
<rect x="212.8" y="272.1" width="152.8" height="160.6" rx="0" fill="none" stroke="#000" stroke-width="1.4" />
<rect x="373" y="272.1" width="152.9" height="160.6" rx="0" fill="none" stroke="#333" stroke-width="1.4" />
<rect x="532.1" y="272.1" width="152.4" height="160.6" rx="0" fill="none" stroke="#333" stroke-width="1.4" />
<rect x="52.5" y="436.2" width="153.1" height="160.8" rx="0" fill="none" stroke="#000" stroke-width="1.4" />
<rect x="212.8" y="436.2" width="152.8" height="160.8" rx="0" fill="none" stroke="#000" stroke-width="1.4" />
<rect x="373" y="436.2" width="152.9" height="160.8" rx="0" fill="none" stroke="#333" stroke-width="1.4" />
<rect x="532.1" y="436.2" width="149" height="160.8" rx="0" fill="none" stroke="#333" stroke-width="1.4" />
<rect x="52.5" y="88.3" width="153.1" height="19.5" rx="0" fill="#F0F0F0" stroke="#000" stroke-width="1.4" />
<text x="136.4" y="103.5" font-size="16.1" text-anchor="middle" font-weight="normal" fill="#000" >Bacteria</text>
<rect x="212.8" y="88.3" width="152.8" height="19.5" rx="0" fill="#F0F0F0" stroke="#000" stroke-width="1.4" />
<text x="288.9" y="103.5" font-size="16.1" text-anchor="middle" font-weight="normal" fill="#000" >Fungi</text>
<rect x="373" y="88.3" width="152.9" height="19.5" rx="0" fill="#F0F0F0" stroke="#333" stroke-width="1.4" />
<text x="456.7" y="103.5" font-size="16.1" text-anchor="middle" font-weight="normal" fill="#000" >Bacteria</text>
<rect x="532.1" y="88.3" width="152.4" height="19.5" rx="0" fill="#F0F0F0" stroke="#333" stroke-width="1.4" />
<text x="608.3" y="103.5" font-size="16.1" text-anchor="middle" font-weight="normal" fill="#000" >Fungi</text>
<line x1="48.3" y1="113.4" x2="52.5" y2="113.4" stroke="#333" stroke-width="1.1" />
<text x="45.9" y="117.7" font-size="11" text-anchor="end" font-weight="normal" fill="#222" >600</text>
<line x1="48.3" y1="163.2" x2="52.5" y2="163.2" stroke="#333" stroke-width="1.1" />
<text x="45.9" y="167.5" font-size="11" text-anchor="end" font-weight="normal" fill="#222" >400</text>
<line x1="48.3" y1="212.6" x2="52.5" y2="212.6" stroke="#333" stroke-width="1.1" />
<text x="45.9" y="216.9" font-size="11" text-anchor="end" font-weight="normal" fill="#222" >200</text>
<line x1="48.3" y1="262.2" x2="52.5" y2="262.2" stroke="#333" stroke-width="1.1" />
<text x="45.9" y="266.5" font-size="11" text-anchor="end" font-weight="normal" fill="#222" >0</text>
<line x1="48.3" y1="277" x2="52.5" y2="277" stroke="#333" stroke-width="1.1" />
<text x="45.9" y="281.3" font-size="11" text-anchor="end" font-weight="normal" fill="#222" >1.0</text>
<line x1="48.3" y1="315.4" x2="52.5" y2="315.4" stroke="#333" stroke-width="1.1" />
<text x="45.9" y="319.7" font-size="11" text-anchor="end" font-weight="normal" fill="#222" >0.8</text>
<line x1="48.3" y1="353.8" x2="52.5" y2="353.8" stroke="#333" stroke-width="1.1" />
<text x="45.9" y="358.1" font-size="11" text-anchor="end" font-weight="normal" fill="#222" >0.6</text>
<line x1="48.3" y1="392.2" x2="52.5" y2="392.2" stroke="#333" stroke-width="1.1" />
<text x="45.9" y="396.5" font-size="11" text-anchor="end" font-weight="normal" fill="#222" >0.4</text>
<line x1="48.3" y1="430.6" x2="52.5" y2="430.6" stroke="#333" stroke-width="1.1" />
<text x="45.9" y="434.9" font-size="11" text-anchor="end" font-weight="normal" fill="#222" >0.2</text>
<line x1="48.3" y1="440.2" x2="52.5" y2="440.2" stroke="#333" stroke-width="1.1" />
<text x="45.9" y="444.5" font-size="11" text-anchor="end" font-weight="normal" fill="#222" >1.00</text>
<line x1="48.3" y1="485.27" x2="52.5" y2="485.27" stroke="#333" stroke-width="1.1" />
<text x="45.9" y="489.57" font-size="11" text-anchor="end" font-weight="normal" fill="#222" >0.75</text>
<line x1="48.3" y1="530.33" x2="52.5" y2="530.33" stroke="#333" stroke-width="1.1" />
<text x="45.9" y="534.63" font-size="11" text-anchor="end" font-weight="normal" fill="#222" >0.50</text>
<line x1="48.3" y1="575.4" x2="52.5" y2="575.4" stroke="#333" stroke-width="1.1" />
<text x="45.9" y="579.7" font-size="11" text-anchor="end" font-weight="normal" fill="#222" >0.25</text>
<line x1="85.55" y1="597" x2="85.55" y2="600.6" stroke="#333" stroke-width="1.1" />
<text x="85.55" y="609.8" font-size="12" text-anchor="middle" font-weight="normal" fill="#222" >800</text>
<line x1="125.55" y1="597" x2="125.55" y2="600.6" stroke="#333" stroke-width="1.1" />
<text x="125.55" y="609.8" font-size="12" text-anchor="middle" font-weight="normal" fill="#222" >900</text>
<line x1="165.55" y1="597" x2="165.55" y2="600.6" stroke="#333" stroke-width="1.1" />
<text x="165.55" y="609.8" font-size="12" text-anchor="middle" font-weight="normal" fill="#222" >1000</text>
<line x1="245.55" y1="597" x2="245.55" y2="600.6" stroke="#333" stroke-width="1.1" />
<text x="245.55" y="609.8" font-size="12" text-anchor="middle" font-weight="normal" fill="#222" >800</text>
<line x1="285.55" y1="597" x2="285.55" y2="600.6" stroke="#333" stroke-width="1.1" />
<text x="285.55" y="609.8" font-size="12" text-anchor="middle" font-weight="normal" fill="#222" >900</text>
<line x1="325.55" y1="597" x2="325.55" y2="600.6" stroke="#333" stroke-width="1.1" />
<text x="325.55" y="609.8" font-size="12" text-anchor="middle" font-weight="normal" fill="#222" >1000</text>
<line x1="402" y1="597" x2="402" y2="600.6" stroke="#333" stroke-width="1.1" />
<text x="402" y="611.9" font-size="13" text-anchor="middle" font-weight="normal" fill="#222" transform="translate(402,0) scale(0.87,1) translate(-402,0)">E</text>
<line x1="420.4" y1="597" x2="420.4" y2="600.6" stroke="#333" stroke-width="1.1" />
<text x="420.4" y="611.9" font-size="13" text-anchor="middle" font-weight="normal" fill="#222" transform="translate(420.4,0) scale(0.87,1) translate(-420.4,0)">W</text>
<line x1="438.3" y1="597" x2="438.3" y2="600.6" stroke="#333" stroke-width="1.1" />
<text x="438.3" y="611.9" font-size="13" text-anchor="middle" font-weight="normal" fill="#222" transform="translate(438.3,0) scale(0.87,1) translate(-438.3,0)">S</text>
<line x1="475.8" y1="597" x2="475.8" y2="600.6" stroke="#333" stroke-width="1.1" />
<text x="475.8" y="611.9" font-size="13" text-anchor="middle" font-weight="normal" fill="#222" transform="translate(475.8,0) scale(0.87,1) translate(-475.8,0)">E</text>
<line x1="493.8" y1="597" x2="493.8" y2="600.6" stroke="#333" stroke-width="1.1" />
<text x="493.8" y="611.9" font-size="13" text-anchor="middle" font-weight="normal" fill="#222" transform="translate(493.8,0) scale(0.87,1) translate(-493.8,0)">W</text>
<line x1="511.8" y1="597" x2="511.8" y2="600.6" stroke="#333" stroke-width="1.1" />
<text x="511.8" y="611.9" font-size="13" text-anchor="middle" font-weight="normal" fill="#222" transform="translate(511.8,0) scale(0.87,1) translate(-511.8,0)">S</text>
<line x1="556.3" y1="597" x2="556.3" y2="600.6" stroke="#333" stroke-width="1.1" />
<text x="556.3" y="611.9" font-size="13" text-anchor="middle" font-weight="normal" fill="#222" transform="translate(556.3,0) scale(0.87,1) translate(-556.3,0)">E</text>
<line x1="574.5" y1="597" x2="574.5" y2="600.6" stroke="#333" stroke-width="1.1" />
<text x="574.5" y="611.9" font-size="13" text-anchor="middle" font-weight="normal" fill="#222" transform="translate(574.5,0) scale(0.87,1) translate(-574.5,0)">W</text>
<line x1="593" y1="597" x2="593" y2="600.6" stroke="#333" stroke-width="1.1" />
<text x="593" y="611.9" font-size="13" text-anchor="middle" font-weight="normal" fill="#222" transform="translate(593,0) scale(0.87,1) translate(-593,0)">S</text>
<line x1="631.3" y1="597" x2="631.3" y2="600.6" stroke="#333" stroke-width="1.1" />
<text x="631.3" y="611.9" font-size="13" text-anchor="middle" font-weight="normal" fill="#222" transform="translate(631.3,0) scale(0.87,1) translate(-631.3,0)">E</text>
<line x1="649.5" y1="597" x2="649.5" y2="600.6" stroke="#333" stroke-width="1.1" />
<text x="649.5" y="611.9" font-size="13" text-anchor="middle" font-weight="normal" fill="#222" transform="translate(649.5,0) scale(0.87,1) translate(-649.5,0)">W</text>
<line x1="667.6" y1="597" x2="667.6" y2="600.6" stroke="#333" stroke-width="1.1" />
<text x="667.6" y="611.9" font-size="13" text-anchor="middle" font-weight="normal" fill="#222" transform="translate(667.6,0) scale(0.87,1) translate(-667.6,0)">S</text>
<text x="207" y="630.6" font-size="17.6" text-anchor="middle" font-weight="bold" fill="#000" >Altitude</text>
<text x="535.9" y="630.6" font-size="17.6" text-anchor="middle" font-weight="bold" fill="#000" >Mountainside</text>
<text transform="translate(12.3,248.8) rotate(-90)" font-size="16.3" textLength="126" lengthAdjust="spacingAndGlyphs">Richness (Chao1)</text>
<text transform="translate(14.6,352.3) rotate(-90)" font-size="16" text-anchor="middle">Evenness</text>
<text transform="translate(12.4,584.7) rotate(-90)" font-size="16.3" textLength="136.6" lengthAdjust="spacingAndGlyphs">Diversity (Simpson)</text>
</svg>
</body></html>
